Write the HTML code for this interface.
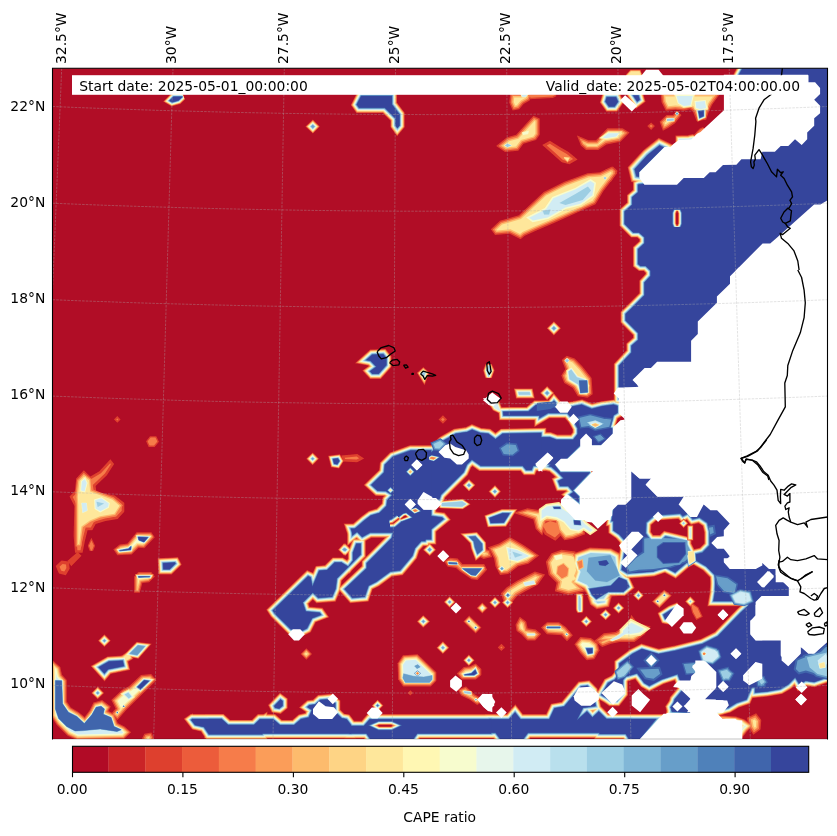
<!DOCTYPE html>
<html><head><meta charset="utf-8"><title>CAPE ratio</title>
<style>
html,body{margin:0;padding:0;background:#fff;}
body{width:837px;height:836px;overflow:hidden;}
svg{display:block;}
text{font-family:"DejaVu Sans","Liberation Sans",sans-serif;font-size:13.89px;fill:#000;}
</style></head><body>
<svg width="837" height="836" viewBox="0 0 837 836">
<rect width="837" height="836" fill="#fff"/>
<defs><clipPath id="ax"><rect x="52.5" y="68.3" width="775.0" height="670.7"/></clipPath>
<path id="s0" d="M169.5,100.7L172.1,102.2L178.4,100.4L182.4,96.7L173.5,96.7Z"/>
<path id="s1" d="M361.2,95.9L356.8,104.6L359.1,107.8L384.8,107.8L395.6,118.5L395.6,125.4L397.4,127.9L399.5,125.4L399.5,114.4L391.9,104.4L391.9,95.9Z"/>
<path id="s2" d="M312.8,125.1L314.3,126.6L312.8,128.1L311.2,126.6Z"/>
<path id="s3" d="M542.8,210.7L550.4,209.5L549.1,214.5L544.1,214.5Z"/>
<path id="s4" d="M625.7,314.3L625.7,320.4L638.2,333.0L638.2,339.9L631.5,345.8L631.5,352.4L619.0,365.8L619.0,387.9L619.0,398.8L838.8,398.8L838.8,61.2L746.3,61.2L738.7,75.3L736.2,110.4L700.8,161.0L650.3,183.2L638.9,184.5L638.1,184.9L638.1,192.3L632.2,197.3L632.2,204.8L624.7,211.5L624.7,223.9L633.2,232.4L639.0,232.4L644.5,237.2L644.5,243.3L638.1,249.2L638.1,264.0L640.6,265.9L645.8,265.9L650.6,270.8L650.6,275.9L644.5,282.6L644.5,295.2L630.9,309.0L625.7,313.9Z"/>
<path id="s5" d="M626.8,75.9L631.0,71.4L639.4,71.4L641.0,75.9Z"/>
<path id="s6" d="M606.8,97.2L605.5,101.6L609.0,106.5L614.5,106.5L617.9,101.7L616.0,97.2Z"/>
<path id="s7" d="M633.2,95.5L637.2,101.5L639.6,99.7L638.4,95.5Z"/>
<path id="s8" d="M698.5,111.3L699.7,117.8L703.5,116.1L703.5,110.7Z"/>
<path id="s9" d="M667.0,118.9L673.7,118.6L673.7,120.6L667.0,121.1Z"/>
<path id="s10" d="M675.9,113.6L677.0,112.4L678.2,113.6L677.0,114.8Z"/>
<path id="s11" d="M649.4,126.1L651.1,124.5L652.8,126.1L651.1,127.8Z"/>
<path id="s12" d="M663.6,147.4L659.6,145.5L647.7,155.0L634.8,169.2L636.5,176.2L639.0,176.6L639.0,172.0Z"/>
<path id="s13" d="M678.7,140.4L691.3,140.0L693.8,137.4L688.8,138.4L678.7,138.7Z"/>
<path id="s14" d="M693.8,137.4L700.5,132.0L703.8,128.7L700.5,130.3Z"/>
<path id="s15" d="M603.7,178.1L605.0,176.7L606.4,178.1L605.0,179.4Z"/>
<path id="s16" d="M553.9,326.8L555.4,328.3L553.9,329.8L552.4,328.3Z"/>
<path id="s17" d="M579.0,380.5L587.1,380.5L587.8,392.3L580.3,393.1Z"/>
<path id="s18" d="M565.2,360.4L567.0,358.7L569.0,360.4L567.0,362.4Z"/>
<path id="s19" d="M486.8,370.5L488.6,365.5L490.9,370.5L488.6,376.8Z"/>
<path id="s20" d="M421.3,373.5L423.3,371.7L425.3,373.5L423.8,377.5Z"/>
<path id="s21" d="M518.7,392.3L529.5,392.3L530.0,394.6L519.2,394.6Z"/>
<path id="s22" d="M547.1,391.6L548.6,393.1L547.1,394.6L545.6,393.1Z"/>
<path id="s23" d="M442.9,417.7L444.6,419.5L442.9,421.2L441.1,419.5Z"/>
<path id="s24" d="M503.2,411.8L503.5,415.5L543.0,415.5L551.7,409.8L555.7,402.8L554.0,400.8L550.7,405.1L536.0,405.1L528.5,411.4Z"/>
<path id="s25" d="M492.4,404.4L496.9,403.1L499.9,410.7L494.9,408.2Z"/>
<path id="s26" d="M469.0,484.0L470.3,485.2L469.0,486.5L467.7,485.2Z"/>
<path id="s27" d="M494.9,490.2L496.1,491.5L494.9,492.8L493.6,491.5Z"/>
<path id="s28" d="M429.6,548.5L430.8,549.8L429.6,551.0L428.3,549.8Z"/>
<path id="s29" d="M442.1,503.3L462.2,501.5L466.0,504.1L462.2,506.6L442.1,505.8Z"/>
<path id="s30" d="M489.5,518.1L490.8,522.9L503.8,522.5L509.7,513.3L502.6,513.3Z"/>
<path id="s31" d="M512.5,551.8L522.5,555.0L515.0,557.6Z"/>
<path id="s32" d="M501.9,567.4L503.2,568.6L501.9,569.9L500.6,568.6Z"/>
<path id="s33" d="M507.9,594.0L509.2,595.2L507.9,596.5L506.7,595.2Z"/>
<path id="s34" d="M523.8,582.7L533.8,580.7L535.1,583.7L525.0,585.7Z"/>
<path id="s35" d="M117.3,418.4L118.3,419.4L117.3,420.4L116.3,419.4Z"/>
<path id="s36" d="M148.5,441.5L151.0,438.3L155.0,438.3L156.5,441.5L153.7,444.8L150.0,444.8Z"/>
<path id="s37" d="M81.7,503.1L86.4,503.1L87.2,510.6L82.7,512.6Z"/>
<path id="s38" d="M96.5,501.8L104.0,503.6L97.7,506.9Z"/>
<path id="s39" d="M91.4,542.0L93.2,545.8L91.4,550.3L89.7,545.8Z"/>
<path id="s40" d="M68.8,560.9L77.6,553.3L80.1,555.8L71.4,564.6Z"/>
<path id="s41" d="M138.2,537.0L138.9,539.9L143.9,541.9L147.9,537.4Z"/>
<path id="s42" d="M119.6,550.5L119.8,550.8L130.6,549.7L131.1,546.5L128.4,548.9Z"/>
<path id="s43" d="M163.1,563.2L163.4,569.2L169.6,569.2L175.4,563.6L174.9,562.6Z"/>
<path id="s44" d="M138.5,576.6L138.7,577.2L149.7,576.8L149.8,576.6Z"/>
<path id="s45" d="M191.2,719.9L195.1,724.9L204.0,726.9L208.9,734.3L262.3,734.3L262.3,721.1L256.3,725.1L227.9,725.1L221.6,719.1L192.3,719.1Z"/>
<path id="s46" d="M272.9,610.5L274.8,613.4L290.8,629.3L302.6,630.5L306.9,628.3L312.0,618.2L321.1,614.8L319.7,612.8L305.7,611.5L302.7,602.5L312.8,592.4L318.3,597.8L332.1,596.7L335.5,588.7L336.8,578.4L360.6,554.6L360.6,543.8L356.4,543.8L353.0,552.8L353.0,560.5L348.3,566.8L341.4,562.6L334.7,562.6L327.2,570.1L319.2,570.8L312.4,586.8L310.5,577.3L308.1,576.2Z"/>
<path id="s47" d="M344.7,589.1L352.3,597.8L364.7,596.7L368.4,585.7L376.3,581.7L390.3,571.6L400.1,570.3L412.3,555.8L414.8,548.2L424.8,537.0L426.9,528.7L394.2,528.7L391.8,538.1L376.5,553.5L366.8,563.2L366.8,568.2Z"/>
<path id="s48" d="M350.9,528.7L352.5,533.4L355.8,531.8L360.7,531.8L363.4,535.8L370.2,530.9L385.2,528.7Z"/>
<path id="s49" d="M393.2,528.7L393.2,527.5L391.5,527.5L391.6,529.0Z"/>
<path id="s50" d="M344.2,548.3L345.5,549.6L344.2,550.8L343.0,549.6Z"/>
<path id="s51" d="M429.7,548.3L430.9,549.6L429.7,550.8L428.4,549.6Z"/>
<path id="s52" d="M521.4,94.8L527.3,94.8L525.6,96.8L522.2,96.8Z"/>
<path id="s53" d="M528.9,94.8L555.7,94.8L552.4,96.5L530.6,97.8Z"/>
<path id="s54" d="M504.7,145.4L507.5,143.7L511.4,145.4L507.5,147.0Z"/>
<path id="s55" d="M522.2,132.5L528.9,130.8L528.1,134.1L523.1,135.0Z"/>
<path id="s56" d="M564.1,157.6L569.1,158.1L567.5,160.9Z"/>
<path id="s57" d="M539.5,406.2L539.5,418.1L548.0,413.1L567.3,413.1L572.8,419.5L577.7,428.3L577.7,434.0L573.2,439.8L556.5,439.8L549.8,437.3L539.5,437.3L539.5,464.2L554.8,464.2L566.9,458.5L579.7,445.8L600.7,445.0L612.5,434.7L612.5,428.6L609.7,427.7L613.5,415.2L617.5,412.8L617.5,406.0L613.6,404.7L602.2,406.3L591.8,408.9L581.7,404.7L573.7,406.3L558.3,408.9L549.9,405.5Z"/>
<path id="s58" d="M549.0,466.3L551.4,466.8L556.7,471.2L563.8,478.3L558.2,481.1L560.1,486.0L568.2,486.0L573.6,492.1L569.6,494.8L578.7,502.2L578.7,496.4L572.6,490.6L589.9,472.5L560.3,472.5L554.3,464.5L558.3,460.4L554.7,460.0Z"/>
<path id="s59" d="M632.5,474.0L632.5,499.4L625.9,506.0L618.4,506.0L613.1,511.2L611.7,521.1L681.1,521.1L681.1,497.6L656.7,497.6L643.8,484.7L648.5,480.0L639.2,480.0Z"/>
<path id="s60" d="M613.5,507.0L613.5,530.4L619.5,534.6L624.9,540.6L624.9,550.3L621.7,569.7L627.4,573.3L636.7,572.7L653.2,571.4L665.3,567.2L675.1,572.4L686.3,562.8L693.7,559.1L706.1,566.2L714.9,575.0L715.8,587.3L713.5,601.1L761.1,601.1L761.1,471.2L631.6,471.2Z"/>
<path id="s61" d="M554.2,556.1L561.8,554.4L562.6,558.6L555.9,560.3Z"/>
<path id="s62" d="M568.5,556.9L573.5,556.9L576.0,567.0L571.8,573.7L576.0,578.7L572.7,580.4L568.5,573.7L571.0,567.0Z"/>
<path id="s63" d="M598.5,561.6L599.5,565.0L605.3,565.7L608.7,563.4L606.4,560.3Z"/>
<path id="s64" d="M589.5,588.9L592.1,594.8L596.3,599.0L608.3,591.7L623.3,591.7L629.0,586.8L626.2,580.5L619.0,577.6L610.9,585.7Z"/>
<path id="s65" d="M588.6,557.8L610.3,555.3L616.2,567.0L619.5,575.4L607.0,582.1L595.3,580.4L586.9,571.2Z"/>
<path id="s66" d="M553.6,507.1L554.2,508.5L560.3,508.5L560.0,507.1Z"/>
<path id="s67" d="M574.0,520.5L574.5,524.3L580.5,524.7L580.0,520.9Z"/>
<path id="s68" d="M578.9,596.3L579.9,596.3L579.9,608.9L579.4,610.2L578.9,608.9Z"/>
<path id="s69" d="M715.7,579.5L715.0,589.6L720.9,595.5L733.8,593.0L752.3,594.0L748.3,605.8L741.4,611.9L717.8,636.2L702.5,643.9L675.5,650.7L658.5,654.1L641.9,649.1L632.4,653.9L619.5,663.5L619.5,676.7L628.1,675.9L637.2,673.2L644.3,682.9L649.3,685.8L661.4,679.4L677.7,674.0L683.3,689.1L674.7,699.5L671.8,711.1L717.0,711.1L728.4,707.8L736.7,702.8L746.4,699.6L751.5,687.8L761.1,686.2L761.1,579.5Z"/>
<path id="s70" d="M656.0,601.4L664.4,593.4L667.7,595.9L659.4,604.3Z"/>
<path id="s71" d="M664.4,594.7L665.0,595.4L664.4,596.1L663.7,595.4Z"/>
<path id="s72" d="M657.7,600.8L658.3,601.4L657.7,602.1L657.0,601.4Z"/>
<path id="s73" d="M690.3,600.4L691.3,601.4L690.3,602.4L689.3,601.4Z"/>
<path id="s74" d="M638.4,594.4L639.4,595.4L638.4,596.4L637.4,595.4Z"/>
<path id="s75" d="M692.0,605.1L697.0,608.5L700.4,616.0L697.0,617.7L693.7,611.8Z"/>
<path id="s76" d="M663.4,614.8L665.2,619.1L668.2,619.7L676.3,613.1L674.6,608.4L670.8,609.9Z"/>
<path id="s77" d="M489.5,719.3L489.5,732.8L495.6,732.8L500.6,739.5L522.9,739.5L527.9,732.8L625.7,732.8L631.1,733.3L631.1,719.3L606.7,719.3L598.8,711.4L592.4,717.6L587.0,711.4L576.8,720.3L576.7,720.3L583.0,707.7L595.7,706.1L592.7,691.0L587.5,685.8L581.0,686.5L564.3,706.6L554.5,708.3L549.4,719.3L520.4,719.3L515.1,712.4L509.0,719.3Z"/>
<path id="s78" d="M601.3,695.0L606.2,697.8L610.9,701.0L616.7,701.0L622.8,693.4L622.8,679.9L631.1,669.9L631.1,658.8L621.6,671.1L614.7,679.7L608.1,683.0Z"/>
<path id="s79" d="M495.0,601.5L496.0,602.5L495.0,603.5L494.0,602.5Z"/>
<path id="s80" d="M507.6,601.5L508.6,602.5L507.6,603.5L506.6,602.5Z"/>
<path id="s81" d="M586.3,620.4L587.3,621.4L586.3,622.4L585.3,621.4Z"/>
<path id="s82" d="M605.6,613.7L606.6,614.7L605.6,615.7L604.5,614.7Z"/>
<path id="s83" d="M618.6,607.0L619.6,608.0L618.6,609.0L617.6,608.0Z"/>
<path id="s84" d="M501.4,646.4L502.4,647.4L501.4,648.4L500.4,647.4Z"/>
<path id="s85" d="M579.3,598.3L580.4,598.3L580.4,610.0L579.9,611.4L579.3,610.0Z"/>
<path id="s86" d="M527.2,633.8L534.9,633.8L534.9,635.2L527.2,635.2Z"/>
<path id="s87" d="M546.9,626.8L560.3,626.8L560.3,628.1L546.9,628.1Z"/>
<path id="s88" d="M566.7,633.7L567.4,634.3L566.7,635.0L566.0,634.3Z"/>
<path id="s89" d="M586.3,648.4L588.2,653.6L592.3,652.9L592.3,648.4Z"/>
<path id="s90" d="M610.6,639.9L617.3,636.0L627.3,630.1L627.3,632.7L618.9,638.2L612.2,640.5Z"/>
<path id="s91" d="M755.1,559.5L755.1,692.6L767.2,691.4L780.3,689.1L788.4,684.3L795.2,677.3L799.5,684.3L805.6,680.7L814.1,681.9L829.8,676.4L829.8,559.5Z"/>
<path id="s92" d="M399.5,461.7L399.5,507.7L406.4,507.7L416.4,502.7L439.3,499.4L440.8,494.8L463.5,472.2L466.8,464.6L471.9,459.6L480.8,465.8L522.8,465.8L526.2,470.0L531.5,470.0L533.2,465.8L541.1,465.8L541.1,433.0L502.6,433.8L495.5,439.2L488.3,433.8L480.1,433.0L472.1,429.8L467.3,432.1L455.7,433.8L442.6,441.2L428.0,455.8L418.3,453.1L410.5,453.9Z"/>
<path id="s93" d="M399.5,518.3L399.5,541.1L425.1,541.1L428.3,531.6L443.5,519.1L442.1,517.5L430.1,515.9L416.8,517.1Z"/>
<path id="s94" d="M441.9,503.5L462.0,502.5L464.5,504.2L462.0,505.8L441.9,505.5Z"/>
<path id="s95" d="M349.5,726.0L349.5,733.4L366.5,733.4L370.7,739.5L413.0,739.5L417.2,733.4L491.1,733.4L491.1,719.3L369.8,719.3L363.9,726.0Z"/>
<path id="s96" d="M377.6,704.5L378.6,705.5L377.6,706.5L376.6,705.5Z"/>
<path id="s97" d="M449.6,601.0L450.6,602.0L449.6,603.0L448.6,602.0Z"/>
<path id="s98" d="M482.3,607.0L483.3,608.0L482.3,609.0L481.3,608.0Z"/>
<path id="s99" d="M423.3,620.4L424.4,621.4L423.3,622.4L422.3,621.4Z"/>
<path id="s100" d="M442.9,646.7L443.9,647.7L442.9,648.7L441.9,647.7Z"/>
<path id="s101" d="M468.9,659.3L469.9,660.3L468.9,661.3L467.9,660.3Z"/>
<path id="s102" d="M410.3,691.9L411.3,692.9L410.3,693.9L409.3,692.9Z"/>
<path id="s103" d="M467.2,621.4L469.2,619.4L477.6,627.6L475.6,629.6Z"/>
<path id="s104" d="M468.9,620.8L469.6,621.4L468.9,622.1L468.2,621.4Z"/>
<path id="s105" d="M475.6,627.0L476.3,627.6L475.6,628.3L474.9,627.6Z"/>
<path id="s106" d="M403.6,673.7L413.6,676.2L423.7,677.0L432.1,675.4L432.1,679.5L429.5,682.4L405.3,682.4L402.8,677.9Z"/>
<path id="s107" d="M414.5,666.1L417.8,664.5L420.3,667.0L417.0,668.7Z"/>
<path id="s108" d="M464.7,674.8L464.8,675.0L473.9,675.0L476.6,673.2L475.2,669.9L471.5,673.5Z"/>
<path id="s109" d="M463.9,691.3L470.6,692.1L470.9,694.1L464.7,693.1Z"/>
<path id="s110" d="M475.9,699.0L476.6,699.6L475.9,700.3L475.3,699.6Z"/>
<path id="s111" d="M209.5,719.3L209.5,733.4L351.1,733.4L351.1,725.2L346.6,719.2L341.7,718.3L335.2,711.9L335.2,703.1L329.9,699.2L320.2,700.0L315.2,704.6L309.3,705.3L307.4,707.0L312.0,710.1L308.8,717.4L301.0,719.2L294.2,725.1L279.9,725.1L273.2,719.3L259.9,719.3L254.0,725.1L228.0,725.1L221.3,719.3Z"/>
<path id="s112" d="M274.3,706.0L275.2,707.8L279.2,708.4L282.5,705.8L282.5,701.1L280.5,699.6Z"/>
<path id="s113" d="M306.3,652.9L307.3,653.9L306.3,654.9L305.3,653.9Z"/>
<path id="s114" d="M104.4,639.7L105.4,640.7L104.4,641.7L103.4,640.7Z"/>
<path id="s115" d="M97.7,691.9L98.7,692.9L97.7,693.9L96.7,692.9Z"/>
<path id="s116" d="M192.3,718.7L193.3,719.7L192.3,720.7L191.3,719.7Z"/>
<path id="s117" d="M98.8,667.3L104.4,673.5L108.0,669.2L123.9,666.0L122.7,660.7L109.0,661.5Z"/>
<path id="s118" d="M130.0,653.6L137.9,645.6L144.6,646.4L137.1,654.9Z"/>
<path id="s119" d="M123.7,656.9L128.7,653.6L130.4,657.8L126.2,660.3Z"/>
<path id="s120" d="M137.5,687.0L140.3,689.2L148.9,680.9L144.2,680.3Z"/>
<path id="s121" d="M123.7,705.7L124.4,706.3L123.7,707.0L123.0,706.3Z"/>
<path id="s122" d="M117.3,711.9L118.0,712.5L117.3,713.2L116.7,712.5Z"/>
<path id="s123" d="M55.4,680.4L61.7,680.7L62.6,703.8L68.4,712.2L76.8,716.4L84.3,723.6L91.9,714.7L96.1,707.2L101.1,706.2L104.4,708.9L103.3,714.2L111.1,717.6L114.0,726.4L121.2,729.8L117.0,731.5L100.2,728.9L83.5,730.6L75.1,731.0L66.7,726.4L58.7,718.6L55.4,708.9Z"/>
<path id="s124" d="M91.9,722.2L105.3,724.8L110.3,729.8L100.2,728.9L92.7,727.3Z"/>
<path id="s125" d="M599.5,719.1L599.5,733.9L625.8,733.9L629.1,739.3L639.6,739.3L656.1,719.1Z"/>
<path id="s126" d="M672.1,711.7L690.1,712.4L690.1,700.2L680.6,695.1L675.5,700.2L670.8,707.2Z"/>
<path id="s127" d="M366.3,360.0L370.6,360.8L376.4,366.7L370.1,371.3L372.3,373.7L378.6,373.7L386.3,365.1L386.3,358.1L383.2,354.2L372.2,354.7Z"/>
<path id="s128" d="M410.8,450.4L392.8,456.9L384.9,464.8L384.1,472.4L371.3,484.9L377.6,490.7L385.8,491.1L392.4,495.0L387.4,500.0L386.6,505.9L379.4,513.1L370.9,515.6L364.4,520.5L352.3,531.0L352.3,535.5L357.1,531.7L362.2,537.0L370.1,532.6L397.9,532.6L401.3,539.3L431.1,539.3L431.1,450.4Z"/>
<path id="s129" d="M312.6,457.8L313.6,458.8L312.6,459.8L311.6,458.8Z"/>
<path id="s130" d="M333.0,459.1L334.2,463.7L337.2,464.2L339.3,460.9L337.9,458.5Z"/>
<path id="s131" d="M345.3,548.7L346.3,549.7L345.3,550.7L344.3,549.7Z"/>
<path id="s132" d="M469.0,536.7L475.4,536.2L482.1,543.8L482.4,550.1L477.4,554.3L474.9,547.6L473.7,541.4Z"/>
<path id="s133" d="M448.6,562.2L456.9,562.7L457.3,564.2L448.9,563.9Z"/>
<path id="s134" d="M462.3,568.6L481.7,568.6L475.7,575.6L471.2,574.9Z"/>
<filter id="bl" x="0" y="0" width="837" height="836" filterUnits="userSpaceOnUse"><feGaussianBlur stdDeviation="0.7"/></filter>
</defs>
<g clip-path="url(#ax)">
<g filter="url(#bl)">
<rect x="20" y="40" width="840" height="730" fill="#b10b26"/>
<rect x="52.5" y="68.3" width="775.0" height="670.7" fill="#b10b26"/>
<g fill="#de402e" stroke="#de402e" stroke-linejoin="miter" stroke-miterlimit="2.5">
<use href="#s0" stroke-width="7.8"/>
<use href="#s1" stroke-width="10.4"/>
<use href="#s2" stroke-width="7.9"/>
<use href="#s3" stroke-width="1.7"/>
<use href="#s4" stroke-width="10.4"/>
<use href="#s5" stroke-width="3.1"/>
<use href="#s6" stroke-width="10.4"/>
<use href="#s7" stroke-width="10.4"/>
<use href="#s8" stroke-width="6.0"/>
<use href="#s9" stroke-width="2.6"/>
<use href="#s10" stroke-width="1.8"/>
<use href="#s11" stroke-width="3.0"/>
<use href="#s12" stroke-width="13.1"/>
<use href="#s13" stroke-width="6.7"/>
<use href="#s14" stroke-width="3.6"/>
<use href="#s15" stroke-width="1.7"/>
<use href="#s16" stroke-width="7.9"/>
<use href="#s17" stroke-width="2.7"/>
<use href="#s18" stroke-width="1.7"/>
<use href="#s19" stroke-width="6.9"/>
<use href="#s20" stroke-width="6.9"/>
<use href="#s21" stroke-width="7.8"/>
<use href="#s22" stroke-width="7.9"/>
<use href="#s23" stroke-width="3.5"/>
<use href="#s24" stroke-width="9.5"/>
<use href="#s25" stroke-width="5.9"/>
<use href="#s26" stroke-width="7.2"/>
<use href="#s27" stroke-width="7.2"/>
<use href="#s28" stroke-width="7.2"/>
<use href="#s29" stroke-width="5.2"/>
<use href="#s30" stroke-width="8.6"/>
<use href="#s31" stroke-width="2.6"/>
<use href="#s32" stroke-width="5.1"/>
<use href="#s33" stroke-width="5.5"/>
<use href="#s34" stroke-width="2.5"/>
<use href="#s35" stroke-width="3.3"/>
<use href="#s36" stroke-width="4.2"/>
<use href="#s37" stroke-width="2.5"/>
<use href="#s38" stroke-width="1.7"/>
<use href="#s39" stroke-width="3.6"/>
<use href="#s40" stroke-width="2.0"/>
<use href="#s41" stroke-width="5.1"/>
<use href="#s42" stroke-width="5.1"/>
<use href="#s43" stroke-width="10.4"/>
<use href="#s44" stroke-width="5.1"/>
<use href="#s45" stroke-width="10.4"/>
<use href="#s46" stroke-width="10.4"/>
<use href="#s47" stroke-width="10.4"/>
<use href="#s48" stroke-width="10.4"/>
<use href="#s49" stroke-width="8.1"/>
<use href="#s50" stroke-width="7.2"/>
<use href="#s51" stroke-width="7.2"/>
<use href="#s52" stroke-width="2.5"/>
<use href="#s53" stroke-width="3.0"/>
<use href="#s54" stroke-width="2.6"/>
<use href="#s55" stroke-width="1.6"/>
<use href="#s56" stroke-width="3.1"/>
<use href="#s57" stroke-width="10.4"/>
<use href="#s58" stroke-width="10.4"/>
<use href="#s59" stroke-width="10.4"/>
<use href="#s60" stroke-width="10.4"/>
<use href="#s61" stroke-width="3.2"/>
<use href="#s62" stroke-width="3.1"/>
<use href="#s63" stroke-width="7.8"/>
<use href="#s64" stroke-width="8.6"/>
<use href="#s65" stroke-width="3.5"/>
<use href="#s66" stroke-width="6.0"/>
<use href="#s67" stroke-width="6.0"/>
<use href="#s68" stroke-width="6.1"/>
<use href="#s69" stroke-width="10.4"/>
<use href="#s70" stroke-width="5.4"/>
<use href="#s71" stroke-width="3.4"/>
<use href="#s72" stroke-width="3.4"/>
<use href="#s73" stroke-width="6.0"/>
<use href="#s74" stroke-width="6.2"/>
<use href="#s75" stroke-width="3.6"/>
<use href="#s76" stroke-width="9.5"/>
<use href="#s77" stroke-width="10.4"/>
<use href="#s78" stroke-width="10.4"/>
<use href="#s79" stroke-width="6.7"/>
<use href="#s80" stroke-width="6.7"/>
<use href="#s81" stroke-width="6.7"/>
<use href="#s82" stroke-width="6.7"/>
<use href="#s83" stroke-width="6.7"/>
<use href="#s84" stroke-width="3.8"/>
<use href="#s85" stroke-width="6.1"/>
<use href="#s86" stroke-width="1.7"/>
<use href="#s87" stroke-width="2.7"/>
<use href="#s88" stroke-width="2.8"/>
<use href="#s89" stroke-width="6.0"/>
<use href="#s90" stroke-width="2.5"/>
<use href="#s91" stroke-width="10.4"/>
<use href="#s92" stroke-width="10.4"/>
<use href="#s93" stroke-width="10.4"/>
<use href="#s94" stroke-width="5.2"/>
<use href="#s95" stroke-width="10.4"/>
<use href="#s96" stroke-width="6.8"/>
<use href="#s97" stroke-width="6.7"/>
<use href="#s98" stroke-width="6.4"/>
<use href="#s99" stroke-width="7.6"/>
<use href="#s100" stroke-width="7.6"/>
<use href="#s101" stroke-width="6.7"/>
<use href="#s102" stroke-width="2.3"/>
<use href="#s103" stroke-width="5.4"/>
<use href="#s104" stroke-width="3.4"/>
<use href="#s105" stroke-width="3.4"/>
<use href="#s106" stroke-width="2.6"/>
<use href="#s107" stroke-width="1.8"/>
<use href="#s108" stroke-width="6.0"/>
<use href="#s109" stroke-width="2.6"/>
<use href="#s110" stroke-width="2.8"/>
<use href="#s111" stroke-width="10.4"/>
<use href="#s112" stroke-width="10.4"/>
<use href="#s113" stroke-width="6.7"/>
<use href="#s114" stroke-width="7.6"/>
<use href="#s115" stroke-width="7.6"/>
<use href="#s116" stroke-width="7.6"/>
<use href="#s117" stroke-width="10.4"/>
<use href="#s118" stroke-width="7.1"/>
<use href="#s119" stroke-width="4.7"/>
<use href="#s120" stroke-width="6.9"/>
<use href="#s121" stroke-width="2.3"/>
<use href="#s122" stroke-width="2.3"/>
<use href="#s123" stroke-width="3.6"/>
<use href="#s124" stroke-width="2.5"/>
<use href="#s125" stroke-width="10.4"/>
<use href="#s126" stroke-width="10.4"/>
<use href="#s127" stroke-width="10.4"/>
<use href="#s128" stroke-width="10.4"/>
<use href="#s129" stroke-width="7.6"/>
<use href="#s130" stroke-width="7.8"/>
<use href="#s131" stroke-width="7.6"/>
<use href="#s132" stroke-width="8.0"/>
<use href="#s133" stroke-width="2.7"/>
<use href="#s134" stroke-width="3.6"/>
<path d="M577.0,135.8L580.8,145.4L586.0,150.0L598.3,150.0L606.5,144.4L620.5,141.8L629.6,132.4L622.5,128.3L607.3,128.3L596.0,140.3L588.5,140.3L577.3,135.5Z" stroke="none" fill-rule="evenodd"/>
<path d="M499.9,220.7L490.8,229.2L495.0,235.1L509.6,233.8L520.6,239.3L524.8,235.8L536.5,230.4L554.0,222.9L576.7,212.8L595.6,204.2L603.5,191.0L617.4,173.0L612.0,166.5L599.9,172.2L587.4,173.2L564.3,181.7L543.7,192.0L518.8,215.2Z" stroke="none" fill-rule="evenodd"/>
<path d="M660.5,92.3L661.6,102.5L665.8,110.8L675.4,109.8L683.9,110.7L689.9,109.2L692.9,111.5L696.6,120.9L706.2,119.7L709.1,111.0L712.3,104.6L721.3,92.3Z" stroke="none" fill-rule="evenodd"/>
<path d="M659.6,121.8L662.9,130.8L668.1,127.9L675.1,123.2L681.5,115.1L677.0,110.7L672.8,114.9L666.5,114.9Z" stroke="none" fill-rule="evenodd"/>
<path d="M598.0,175.4L598.0,184.3L603.6,187.1L611.6,181.1L617.6,171.1L613.0,166.5L605.7,169.6Z" stroke="none" fill-rule="evenodd"/>
<path d="M561.7,360.1L565.3,369.1L561.3,375.4L564.2,382.9L572.8,388.0L577.7,396.3L587.6,397.7L592.7,394.2L591.6,378.0L582.5,366.6L574.7,358.6L566.7,355.7Z" stroke="none" fill-rule="evenodd"/>
<path d="M515.1,513.4L533.3,519.5L535.7,529.0L542.3,535.5L546.6,522.5L554.8,522.5L557.0,531.4L564.4,540.2L573.3,538.7L585.2,534.3L582.1,518.9L568.9,513.6L558.5,501.9L546.4,503.4L541.6,510.6L527.4,508.2L515.1,512.3Z" stroke="none" fill-rule="evenodd"/>
<path d="M488.1,547.3L494.1,558.7L495.4,566.3L500.0,574.9L508.2,573.9L518.4,566.3L528.5,563.7L539.1,555.4L523.6,545.0L509.9,537.1L499.0,543.6Z" stroke="none" fill-rule="evenodd"/>
<path d="M500.9,593.2L503.2,600.6L508.8,606.2L517.5,595.8L526.0,591.0L537.9,584.7L545.1,574.5L534.9,571.5L517.0,580.7L506.7,587.2Z" stroke="none" fill-rule="evenodd"/>
<path d="M69.5,496.5L74.4,505.9L73.6,535.8L75.0,552.8L82.6,552.8L84.9,541.1L87.6,530.2L92.3,530.2L95.7,523.9L105.6,521.1L117.6,519.0L124.3,511.7L124.3,502.8L114.7,495.6L96.5,492.3L95.6,486.0L106.9,475.2L114.1,464.1L110.4,459.3L99.3,471.3L90.4,476.6L83.8,470.3L76.2,478.6L74.9,491.1Z" stroke="none" fill-rule="evenodd"/>
<path d="M55.7,566.0L58.9,573.5L65.8,575.2L69.7,568.8L69.0,561.5L61.5,560.5Z" stroke="none" fill-rule="evenodd"/>
<path d="M113.3,549.4L117.4,555.2L131.7,554.6L138.6,547.7L144.4,548.2L154.8,537.2L151.4,532.2L136.6,532.2L127.4,543.4L119.6,544.6Z" stroke="none" fill-rule="evenodd"/>
<path d="M134.1,576.4L134.1,592.8L139.8,592.8L142.4,583.1L149.3,582.2L154.9,576.6L151.3,572.1L138.4,572.1Z" stroke="none" fill-rule="evenodd"/>
<path d="M510.3,93.1L509.2,102.6L512.6,110.6L519.2,109.2L523.6,103.9L529.7,100.4L532.9,93.1Z" stroke="none" fill-rule="evenodd"/>
<path d="M496.1,146.0L505.0,151.9L518.3,150.7L523.5,143.8L536.1,140.1L539.7,134.8L539.7,118.6L533.4,115.7L524.1,126.1L516.1,134.8L507.0,137.3Z" stroke="none" fill-rule="evenodd"/>
<path d="M542.2,145.1L549.7,151.5L561.7,162.3L569.4,164.2L577.6,159.5L568.3,151.8L559.9,147.1L549.9,140.8Z" stroke="none" fill-rule="evenodd"/>
<path d="M545.8,561.8L548.7,574.9L556.6,582.8L554.8,591.3L568.4,594.9L586.6,591.0L577.1,581.2L581.4,570.4L575.3,551.4L561.5,549.8L551.5,553.3Z" stroke="none" fill-rule="evenodd"/>
<path d="M573.6,553.2L571.5,563.9L574.8,572.1L571.0,583.5L583.4,589.3L588.0,595.4L594.8,605.0L606.9,603.9L611.9,596.4L624.7,595.6L634.7,587.9L629.4,577.2L622.2,569.2L620.4,553.6L611.1,548.4L589.8,547.5Z" stroke="none" fill-rule="evenodd"/>
<path d="M538.8,523.6L544.7,534.6L555.3,540.7L562.5,534.1L560.6,521.5L549.9,518.2Z" stroke="none" fill-rule="evenodd"/>
<path d="M594.2,642.1L634.5,642.1L644.5,634.6L650.7,626.4L637.5,622.9L631.3,614.8L627.4,627.2L619.7,631.6L603.7,633.3L593.8,641.2Z" stroke="none" fill-rule="evenodd"/>
<path d="M515.5,624.8L516.6,631.0L521.3,634.2L527.3,640.6L535.3,640.6L541.2,634.1L535.8,629.5L527.7,628.3L526.2,621.4L519.8,616.7Z" stroke="none" fill-rule="evenodd"/>
<path d="M541.0,627.4L546.8,634.2L561.4,635.2L567.0,641.2L572.9,635.3L565.9,626.9L559.0,622.2L547.0,622.2Z" stroke="none" fill-rule="evenodd"/>
<path d="M574.4,644.2L580.1,652.9L586.6,660.2L594.3,659.3L599.5,650.2L597.7,642.9L590.9,638.1L580.3,637.1Z" stroke="none" fill-rule="evenodd"/>
<path d="M595.1,641.4L602.2,647.1L611.1,643.8L621.1,641.8L634.3,637.4L634.3,618.8L616.3,631.4L606.4,636.4Z" stroke="none" fill-rule="evenodd"/>
<path d="M587.2,596.0L590.2,604.8L596.6,609.2L609.1,607.1L611.9,596.0Z" stroke="none" fill-rule="evenodd"/>
<path d="M397.6,663.2L398.1,679.2L403.0,686.4L430.8,686.4L436.4,680.8L436.4,672.2L424.7,660.9L417.6,654.2L402.9,655.2Z" stroke="none" fill-rule="evenodd"/>
<path d="M456.8,673.4L461.5,679.5L476.0,679.5L481.4,675.0L481.4,669.1L475.7,663.6L470.0,666.2L463.8,666.9Z" stroke="none" fill-rule="evenodd"/>
<path d="M457.8,689.6L461.0,695.4L469.8,699.8L477.1,705.0L485.4,700.5L474.9,694.5L466.0,686.6Z" stroke="none" fill-rule="evenodd"/>
<path d="M111.3,699.9L115.6,708.5L110.9,714.1L117.6,720.0L127.2,708.9L156.5,680.2L151.2,674.0L141.0,674.9L128.9,686.3L122.2,689.7Z" stroke="none" fill-rule="evenodd"/>
<path d="M50.6,659.4L51.1,716.5L56.8,725.0L67.5,735.7L77.0,740.1L124.1,739.0L131.2,732.2L124.6,726.4L117.8,723.1L114.8,714.2L108.5,711.1L110.8,706.6L102.2,700.1L93.4,702.6L89.6,710.3L84.6,717.0L78.9,712.2L70.9,707.4L66.8,701.5L66.8,680.0L62.0,674.7L60.3,667.0L51.2,659.1Z" stroke="none" fill-rule="evenodd"/>
<path d="M139.4,744.0L156.3,744.0L151.5,732.4L144.3,733.8Z" stroke="none" fill-rule="evenodd"/>
<path d="M718.4,719.2L734.5,722.6L738.6,726.1L724.9,742.6L725.1,742.9L738.3,742.9L747.3,731.3L753.5,725.6L744.1,719.2L736.0,716.5L719.0,715.3Z" stroke="none" fill-rule="evenodd"/>
<path d="M747.0,717.7L749.0,727.9L753.4,734.7L760.5,729.6L761.3,719.9L756.2,713.3Z" stroke="none" fill-rule="evenodd"/>
<path d="M341.3,455.4L343.1,461.5L357.2,462.2L364.2,458.5L357.3,453.9Z" stroke="none" fill-rule="evenodd"/>
<path d="M479.5,547.8L477.2,555.8L483.6,559.0L492.1,556.9L489.7,549.9Z" stroke="none" fill-rule="evenodd"/>
<path d="M443.9,561.1L447.7,566.8L456.0,568.0L459.3,571.0L471.6,579.3L477.5,580.0L487.1,569.8L484.2,564.0L462.5,564.0L457.6,558.5L450.2,557.7Z" stroke="none" fill-rule="evenodd"/>
</g>
<g fill="#f67c4a" stroke="#f67c4a" stroke-linejoin="miter" stroke-miterlimit="2.5">
<use href="#s0" stroke-width="6.8"/>
<use href="#s1" stroke-width="9.2"/>
<use href="#s2" stroke-width="6.9"/>
<use href="#s3" stroke-width="1.5"/>
<use href="#s4" stroke-width="9.2"/>
<use href="#s5" stroke-width="2.2"/>
<use href="#s6" stroke-width="9.2"/>
<use href="#s7" stroke-width="9.2"/>
<use href="#s8" stroke-width="5.3"/>
<use href="#s9" stroke-width="2.1"/>
<use href="#s10" stroke-width="1.5"/>
<use href="#s11" stroke-width="0.0"/>
<use href="#s12" stroke-width="11.6"/>
<use href="#s13" stroke-width="5.3"/>
<use href="#s14" stroke-width="1.2"/>
<use href="#s15" stroke-width="1.4"/>
<use href="#s16" stroke-width="6.9"/>
<use href="#s17" stroke-width="2.3"/>
<use href="#s18" stroke-width="1.5"/>
<use href="#s19" stroke-width="5.9"/>
<use href="#s20" stroke-width="5.7"/>
<use href="#s21" stroke-width="6.6"/>
<use href="#s22" stroke-width="6.9"/>
<use href="#s23" stroke-width="0.0"/>
<use href="#s24" stroke-width="8.4"/>
<use href="#s25" stroke-width="4.8"/>
<use href="#s26" stroke-width="6.2"/>
<use href="#s27" stroke-width="6.2"/>
<use href="#s28" stroke-width="6.2"/>
<use href="#s29" stroke-width="4.4"/>
<use href="#s30" stroke-width="7.6"/>
<use href="#s31" stroke-width="2.2"/>
<use href="#s32" stroke-width="4.4"/>
<use href="#s33" stroke-width="4.8"/>
<use href="#s34" stroke-width="2.1"/>
<use href="#s35" stroke-width="0.0"/>
<use href="#s36" stroke-width="1.4"/>
<use href="#s37" stroke-width="2.1"/>
<use href="#s38" stroke-width="1.5"/>
<use href="#s39" stroke-width="1.2"/>
<use href="#s41" stroke-width="4.5"/>
<use href="#s42" stroke-width="4.5"/>
<use href="#s43" stroke-width="9.2"/>
<use href="#s44" stroke-width="4.5"/>
<use href="#s45" stroke-width="9.2"/>
<use href="#s46" stroke-width="9.2"/>
<use href="#s47" stroke-width="9.2"/>
<use href="#s48" stroke-width="9.2"/>
<use href="#s49" stroke-width="7.1"/>
<use href="#s50" stroke-width="6.2"/>
<use href="#s51" stroke-width="6.2"/>
<use href="#s52" stroke-width="2.1"/>
<use href="#s53" stroke-width="0.0"/>
<use href="#s54" stroke-width="2.1"/>
<use href="#s55" stroke-width="1.3"/>
<use href="#s56" stroke-width="2.2"/>
<use href="#s57" stroke-width="9.2"/>
<use href="#s58" stroke-width="9.2"/>
<use href="#s59" stroke-width="9.2"/>
<use href="#s60" stroke-width="9.2"/>
<use href="#s61" stroke-width="2.4"/>
<use href="#s62" stroke-width="2.2"/>
<use href="#s63" stroke-width="6.8"/>
<use href="#s64" stroke-width="7.6"/>
<use href="#s65" stroke-width="3.1"/>
<use href="#s66" stroke-width="5.3"/>
<use href="#s67" stroke-width="5.3"/>
<use href="#s68" stroke-width="5.1"/>
<use href="#s69" stroke-width="9.2"/>
<use href="#s70" stroke-width="3.9"/>
<use href="#s71" stroke-width="3.0"/>
<use href="#s72" stroke-width="3.0"/>
<use href="#s73" stroke-width="5.0"/>
<use href="#s74" stroke-width="5.4"/>
<use href="#s75" stroke-width="1.2"/>
<use href="#s76" stroke-width="8.4"/>
<use href="#s77" stroke-width="9.2"/>
<use href="#s78" stroke-width="9.2"/>
<use href="#s79" stroke-width="5.8"/>
<use href="#s80" stroke-width="5.8"/>
<use href="#s81" stroke-width="5.8"/>
<use href="#s82" stroke-width="5.8"/>
<use href="#s83" stroke-width="5.8"/>
<use href="#s84" stroke-width="0.0"/>
<use href="#s85" stroke-width="5.1"/>
<use href="#s86" stroke-width="1.4"/>
<use href="#s87" stroke-width="2.3"/>
<use href="#s88" stroke-width="2.4"/>
<use href="#s89" stroke-width="5.3"/>
<use href="#s90" stroke-width="2.1"/>
<use href="#s91" stroke-width="9.2"/>
<use href="#s92" stroke-width="9.2"/>
<use href="#s93" stroke-width="9.2"/>
<use href="#s94" stroke-width="4.4"/>
<use href="#s95" stroke-width="9.2"/>
<use href="#s96" stroke-width="5.9"/>
<use href="#s97" stroke-width="5.8"/>
<use href="#s98" stroke-width="5.1"/>
<use href="#s99" stroke-width="6.6"/>
<use href="#s100" stroke-width="6.6"/>
<use href="#s101" stroke-width="5.8"/>
<use href="#s103" stroke-width="3.9"/>
<use href="#s104" stroke-width="3.0"/>
<use href="#s105" stroke-width="3.0"/>
<use href="#s106" stroke-width="2.3"/>
<use href="#s107" stroke-width="1.5"/>
<use href="#s108" stroke-width="5.3"/>
<use href="#s109" stroke-width="2.2"/>
<use href="#s110" stroke-width="2.4"/>
<use href="#s111" stroke-width="9.2"/>
<use href="#s112" stroke-width="9.2"/>
<use href="#s113" stroke-width="4.8"/>
<use href="#s114" stroke-width="6.6"/>
<use href="#s115" stroke-width="6.6"/>
<use href="#s116" stroke-width="6.6"/>
<use href="#s117" stroke-width="9.2"/>
<use href="#s118" stroke-width="6.1"/>
<use href="#s119" stroke-width="3.3"/>
<use href="#s120" stroke-width="6.1"/>
<use href="#s121" stroke-width="2.0"/>
<use href="#s122" stroke-width="2.0"/>
<use href="#s123" stroke-width="3.1"/>
<use href="#s124" stroke-width="2.1"/>
<use href="#s125" stroke-width="9.2"/>
<use href="#s126" stroke-width="9.2"/>
<use href="#s127" stroke-width="9.2"/>
<use href="#s128" stroke-width="9.2"/>
<use href="#s129" stroke-width="6.6"/>
<use href="#s130" stroke-width="6.8"/>
<use href="#s131" stroke-width="6.6"/>
<use href="#s132" stroke-width="7.0"/>
<use href="#s133" stroke-width="2.3"/>
<use href="#s134" stroke-width="3.1"/>
<path d="M579.4,137.9L582.0,144.5L586.6,148.6L597.8,148.6L605.9,143.0L619.8,140.5L627.3,132.7L622.1,129.7L607.9,129.7L596.6,141.8L588.2,141.8Z" stroke="none" fill-rule="evenodd"/>
<path d="M500.7,222.0L492.7,229.4L495.7,233.6L509.9,232.3L520.4,237.5L524.0,234.5L535.9,229.1L553.5,221.6L576.1,211.5L594.6,203.0L602.3,190.2L615.5,173.0L611.6,168.3L600.2,173.6L587.8,174.6L564.9,183.0L544.5,193.2L519.5,216.5Z" stroke="none" fill-rule="evenodd"/>
<path d="M662.1,93.7L663.0,102.0L666.6,109.2L675.4,108.4L683.8,109.2L690.3,107.6L694.1,110.6L697.6,119.3L705.1,118.4L707.8,110.5L711.1,103.9L718.5,93.7Z" stroke="none" fill-rule="evenodd"/>
<path d="M661.2,122.1L663.6,128.7L667.3,126.7L674.1,122.1L679.6,115.2L677.0,112.7L673.4,116.3L667.1,116.3Z" stroke="none" fill-rule="evenodd"/>
<path d="M599.6,176.2L599.6,183.3L603.4,185.2L610.3,180.0L615.5,171.3L612.6,168.4L606.5,171.0Z" stroke="none" fill-rule="evenodd"/>
<path d="M563.4,360.5L566.9,369.2L562.9,375.5L565.3,381.9L573.9,386.9L578.6,394.9L587.3,396.2L591.2,393.5L590.2,378.6L581.4,367.6L573.9,359.8L567.0,357.4Z" stroke="none" fill-rule="evenodd"/>
<path d="M518.0,512.8L534.5,518.4L537.0,528.2L541.6,532.9L545.6,521.0L555.9,521.0L558.3,530.7L565.0,538.7L572.9,537.3L583.5,533.3L580.8,519.9L568.1,514.8L557.9,503.4L547.3,504.7L542.3,512.2L527.5,509.7Z" stroke="none" fill-rule="evenodd"/>
<path d="M490.2,548.2L495.5,558.3L496.8,565.8L500.8,573.3L507.7,572.5L517.8,564.9L527.8,562.4L536.6,555.5L522.8,546.2L509.9,538.7L499.6,544.9Z" stroke="none" fill-rule="evenodd"/>
<path d="M502.8,593.6L504.6,599.7L508.7,603.8L516.5,594.5L525.2,589.5L536.8,583.5L542.4,575.4L535.0,573.2L517.8,582.1L507.7,588.4Z" stroke="none" fill-rule="evenodd"/>
<path d="M72.7,497.0L77.0,505.3L76.2,535.7L77.4,550.2L80.5,550.2L82.3,540.5L85.6,527.6L90.8,527.6L94.0,521.7L105.0,518.6L116.3,516.6L121.7,510.7L121.7,504.1L113.6,498.1L94.2,494.5L92.8,485.1L104.9,473.5L110.9,464.2L110.2,463.3L100.9,473.3L90.0,479.8L84.0,474.0L78.7,479.7L77.4,492.3Z" stroke="none" fill-rule="evenodd"/>
<path d="M75.1,496.8L75.6,505.7L75.6,546.5L81.4,546.5L84.0,528.1L91.2,522.9L100.8,518.8L116.0,516.2L122.9,505.2L113.8,497.3L92.6,489.6L91.6,478.9L83.7,472.7L77.0,480.1Z" stroke="none" fill-rule="evenodd"/>
<path d="M59.5,566.8L61.3,570.7L64.3,571.5L66.4,568.0L66.0,564.4L62.6,563.9Z" stroke="none" fill-rule="evenodd"/>
<path d="M115.0,549.7L118.0,554.0L131.2,553.4L138.2,546.4L143.9,546.9L153.3,537.1L150.8,533.4L137.1,533.4L128.0,544.5L120.1,545.7Z" stroke="none" fill-rule="evenodd"/>
<path d="M135.3,576.9L135.3,591.6L138.9,591.6L141.4,582.0L148.8,581.0L153.3,576.5L150.8,573.3L138.9,573.3Z" stroke="none" fill-rule="evenodd"/>
<path d="M511.6,94.5L510.7,102.4L513.5,108.9L518.4,107.9L522.7,102.8L528.6,99.4L530.7,94.5Z" stroke="none" fill-rule="evenodd"/>
<path d="M498.6,145.9L505.3,150.4L517.6,149.3L522.6,142.6L535.2,138.9L538.3,134.3L538.3,119.5L533.8,117.5L525.1,127.0L516.9,136.1L507.7,138.6Z" stroke="none" fill-rule="evenodd"/>
<path d="M546.8,145.6L551.4,149.6L563.0,159.9L569.0,161.4L573.1,159.1L566.8,154.0L558.5,149.3L549.8,143.8Z" stroke="none" fill-rule="evenodd"/>
<path d="M547.6,562.1L550.2,574.1L558.4,582.3L556.7,590.1L568.5,593.2L583.4,590.1L575.2,581.5L579.7,570.4L574.1,552.9L561.7,551.5L552.6,554.6Z" stroke="none" fill-rule="evenodd"/>
<path d="M574.4,553.9L572.5,563.8L575.8,572.1L572.1,583.0L584.0,588.5L588.8,594.8L595.2,604.0L606.3,603.0L611.3,595.5L624.4,594.7L633.5,587.6L628.6,577.7L621.3,569.6L619.6,554.1L610.8,549.3L590.0,548.4Z" stroke="none" fill-rule="evenodd"/>
<path d="M542.4,524.8L546.7,532.7L554.9,537.5L559.8,533.1L558.3,523.5L550.1,520.9Z" stroke="none" fill-rule="evenodd"/>
<path d="M596.8,640.6L634.0,640.6L643.4,633.6L648.3,627.2L636.7,624.2L631.9,617.9L628.6,628.2L620.2,633.0L604.2,634.7Z" stroke="none" fill-rule="evenodd"/>
<path d="M517.0,625.0L517.9,630.2L522.2,633.1L527.9,639.2L534.7,639.2L539.1,634.3L535.2,630.9L526.5,629.6L524.9,622.2L520.3,618.8Z" stroke="none" fill-rule="evenodd"/>
<path d="M543.0,627.6L547.5,632.8L562.1,633.8L567.0,639.1L570.9,635.2L565.0,628.0L558.5,623.6L547.5,623.6Z" stroke="none" fill-rule="evenodd"/>
<path d="M576.0,644.3L581.1,652.1L587.1,658.8L593.5,658.1L598.1,650.0L596.6,643.7L590.4,639.4L580.9,638.5Z" stroke="none" fill-rule="evenodd"/>
<path d="M598.2,641.8L602.5,645.3L610.7,642.2L620.7,640.2L632.7,636.3L632.7,621.9L617.1,632.8L607.1,637.9Z" stroke="none" fill-rule="evenodd"/>
<path d="M588.5,596.9L591.0,604.3L596.9,608.2L608.4,606.3L610.7,596.9Z" stroke="none" fill-rule="evenodd"/>
<path d="M398.6,663.5L399.2,678.9L403.6,685.3L430.4,685.3L435.3,680.4L435.3,672.7L423.9,661.7L417.2,655.3L403.6,656.3Z" stroke="none" fill-rule="evenodd"/>
<path d="M458.5,673.6L462.1,678.2L475.6,678.2L480.1,674.4L480.1,669.6L475.4,665.1L470.3,667.5L464.3,668.2Z" stroke="none" fill-rule="evenodd"/>
<path d="M459.6,690.3L461.9,694.4L470.5,698.7L477.2,703.5L482.7,700.5L474.1,695.6L465.7,688.1Z" stroke="none" fill-rule="evenodd"/>
<path d="M112.9,700.2L117.2,708.7L112.7,714.0L117.4,718.2L126.3,708.0L154.7,680.1L150.7,675.4L141.6,676.2L129.7,687.4L123.0,690.7Z" stroke="none" fill-rule="evenodd"/>
<path d="M51.7,660.9L52.2,716.2L57.7,724.3L68.1,734.8L77.2,739.0L123.7,737.9L129.6,732.2L123.9,727.3L116.9,723.8L113.9,715.0L107.1,711.6L109.4,706.9L102.0,701.3L94.2,703.5L90.5,710.8L84.8,718.6L78.3,713.1L70.1,708.2L65.7,701.9L65.7,680.5L61.0,675.3L59.3,667.6Z" stroke="none" fill-rule="evenodd"/>
<path d="M141.7,742.6L154.2,742.6L150.6,734.0L145.3,735.1Z" stroke="none" fill-rule="evenodd"/>
<path d="M719.5,718.5L734.9,721.8L739.9,726.0L726.7,742.0L737.9,742.0L746.6,730.6L752.0,725.7L743.7,720.0L735.8,717.4L719.8,716.3Z" stroke="none" fill-rule="evenodd"/>
<path d="M748.8,718.6L750.6,727.3L753.8,732.4L759.0,728.7L759.7,720.4L755.7,715.3Z" stroke="none" fill-rule="evenodd"/>
<path d="M344.7,457.7L345.1,459.0L356.6,459.6L359.1,458.3L356.6,456.6Z" stroke="none" fill-rule="evenodd"/>
<path d="M480.5,549.5L478.9,555.1L483.8,557.5L490.2,555.9L488.6,551.1Z" stroke="none" fill-rule="evenodd"/>
<path d="M446.0,561.6L448.5,565.5L456.7,566.7L460.2,569.9L472.1,577.9L476.9,578.4L485.3,569.5L483.3,565.4L461.9,565.4L456.9,559.9L450.4,559.2Z" stroke="none" fill-rule="evenodd"/>
</g>
<g fill="#fdbb6d" stroke="#fdbb6d" stroke-linejoin="miter" stroke-miterlimit="2.5">
<use href="#s0" stroke-width="5.9"/>
<use href="#s1" stroke-width="8.0"/>
<use href="#s2" stroke-width="5.8"/>
<use href="#s3" stroke-width="1.2"/>
<use href="#s4" stroke-width="8.0"/>
<use href="#s5" stroke-width="1.3"/>
<use href="#s6" stroke-width="8.0"/>
<use href="#s7" stroke-width="8.0"/>
<use href="#s8" stroke-width="4.6"/>
<use href="#s9" stroke-width="1.7"/>
<use href="#s10" stroke-width="1.3"/>
<use href="#s12" stroke-width="10.0"/>
<use href="#s13" stroke-width="4.0"/>
<use href="#s15" stroke-width="1.1"/>
<use href="#s16" stroke-width="5.8"/>
<use href="#s17" stroke-width="2.0"/>
<use href="#s18" stroke-width="1.2"/>
<use href="#s19" stroke-width="4.8"/>
<use href="#s20" stroke-width="4.6"/>
<use href="#s21" stroke-width="5.4"/>
<use href="#s22" stroke-width="5.8"/>
<use href="#s24" stroke-width="7.3"/>
<use href="#s25" stroke-width="3.8"/>
<use href="#s26" stroke-width="5.2"/>
<use href="#s27" stroke-width="5.2"/>
<use href="#s28" stroke-width="5.2"/>
<use href="#s29" stroke-width="3.6"/>
<use href="#s30" stroke-width="6.6"/>
<use href="#s31" stroke-width="1.8"/>
<use href="#s32" stroke-width="3.7"/>
<use href="#s33" stroke-width="4.1"/>
<use href="#s34" stroke-width="1.6"/>
<use href="#s37" stroke-width="1.6"/>
<use href="#s38" stroke-width="1.2"/>
<use href="#s41" stroke-width="3.9"/>
<use href="#s42" stroke-width="3.9"/>
<use href="#s43" stroke-width="8.0"/>
<use href="#s44" stroke-width="3.9"/>
<use href="#s45" stroke-width="8.0"/>
<use href="#s46" stroke-width="8.0"/>
<use href="#s47" stroke-width="8.0"/>
<use href="#s48" stroke-width="8.0"/>
<use href="#s49" stroke-width="6.2"/>
<use href="#s50" stroke-width="5.2"/>
<use href="#s51" stroke-width="5.2"/>
<use href="#s52" stroke-width="1.6"/>
<use href="#s54" stroke-width="1.7"/>
<use href="#s55" stroke-width="0.9"/>
<use href="#s56" stroke-width="1.3"/>
<use href="#s57" stroke-width="8.0"/>
<use href="#s58" stroke-width="8.0"/>
<use href="#s59" stroke-width="8.0"/>
<use href="#s60" stroke-width="8.0"/>
<use href="#s61" stroke-width="1.6"/>
<use href="#s62" stroke-width="1.3"/>
<use href="#s63" stroke-width="5.9"/>
<use href="#s64" stroke-width="6.6"/>
<use href="#s65" stroke-width="2.6"/>
<use href="#s66" stroke-width="4.6"/>
<use href="#s67" stroke-width="4.6"/>
<use href="#s68" stroke-width="4.2"/>
<use href="#s69" stroke-width="8.0"/>
<use href="#s70" stroke-width="2.3"/>
<use href="#s71" stroke-width="2.5"/>
<use href="#s72" stroke-width="2.5"/>
<use href="#s73" stroke-width="4.0"/>
<use href="#s74" stroke-width="4.5"/>
<use href="#s76" stroke-width="7.3"/>
<use href="#s77" stroke-width="8.0"/>
<use href="#s78" stroke-width="8.0"/>
<use href="#s79" stroke-width="4.9"/>
<use href="#s80" stroke-width="4.9"/>
<use href="#s81" stroke-width="4.9"/>
<use href="#s82" stroke-width="4.9"/>
<use href="#s83" stroke-width="4.9"/>
<use href="#s85" stroke-width="4.2"/>
<use href="#s86" stroke-width="1.1"/>
<use href="#s87" stroke-width="2.0"/>
<use href="#s88" stroke-width="2.1"/>
<use href="#s89" stroke-width="4.6"/>
<use href="#s90" stroke-width="1.6"/>
<use href="#s91" stroke-width="8.0"/>
<use href="#s92" stroke-width="8.0"/>
<use href="#s93" stroke-width="8.0"/>
<use href="#s94" stroke-width="3.6"/>
<use href="#s95" stroke-width="8.0"/>
<use href="#s96" stroke-width="5.1"/>
<use href="#s97" stroke-width="4.9"/>
<use href="#s98" stroke-width="3.8"/>
<use href="#s99" stroke-width="5.6"/>
<use href="#s100" stroke-width="5.6"/>
<use href="#s101" stroke-width="4.9"/>
<use href="#s103" stroke-width="2.3"/>
<use href="#s104" stroke-width="2.5"/>
<use href="#s105" stroke-width="2.5"/>
<use href="#s106" stroke-width="1.9"/>
<use href="#s107" stroke-width="1.3"/>
<use href="#s108" stroke-width="4.6"/>
<use href="#s109" stroke-width="1.8"/>
<use href="#s110" stroke-width="2.1"/>
<use href="#s111" stroke-width="8.0"/>
<use href="#s112" stroke-width="8.0"/>
<use href="#s113" stroke-width="2.9"/>
<use href="#s114" stroke-width="5.6"/>
<use href="#s115" stroke-width="5.6"/>
<use href="#s116" stroke-width="5.6"/>
<use href="#s117" stroke-width="8.0"/>
<use href="#s118" stroke-width="5.2"/>
<use href="#s119" stroke-width="2.0"/>
<use href="#s120" stroke-width="5.2"/>
<use href="#s121" stroke-width="1.7"/>
<use href="#s122" stroke-width="1.7"/>
<use href="#s123" stroke-width="2.7"/>
<use href="#s124" stroke-width="1.6"/>
<use href="#s125" stroke-width="8.0"/>
<use href="#s126" stroke-width="8.0"/>
<use href="#s127" stroke-width="8.0"/>
<use href="#s128" stroke-width="8.0"/>
<use href="#s129" stroke-width="5.6"/>
<use href="#s130" stroke-width="5.9"/>
<use href="#s131" stroke-width="5.6"/>
<use href="#s132" stroke-width="6.0"/>
<use href="#s133" stroke-width="2.0"/>
<use href="#s134" stroke-width="2.7"/>
<path d="M582.0,140.7L583.2,143.7L587.1,147.1L597.4,147.1L605.3,141.6L619.1,139.1L624.9,133.0L621.8,131.1L608.5,131.1L597.2,143.2L587.9,143.2Z" stroke="none" fill-rule="evenodd"/>
<path d="M501.4,223.3L494.6,229.6L496.4,232.1L510.2,230.8L520.2,235.8L523.2,233.3L535.3,227.8L552.9,220.3L575.5,210.2L593.6,201.9L601.1,189.4L613.7,173.0L611.2,170.0L600.6,175.1L588.1,176.1L565.5,184.4L545.4,194.4L520.2,217.8Z" stroke="none" fill-rule="evenodd"/>
<path d="M663.7,95.1L664.4,101.6L667.5,107.7L675.4,106.9L683.7,107.7L690.6,106.0L695.3,109.7L698.5,117.7L704.1,117.0L706.4,109.9L709.8,103.1L715.6,95.1Z" stroke="none" fill-rule="evenodd"/>
<path d="M662.9,122.5L664.4,126.7L666.6,125.5L673.1,121.0L677.6,115.3L677.0,114.7L674.0,117.7L667.7,117.7Z" stroke="none" fill-rule="evenodd"/>
<path d="M601.3,177.0L601.3,182.3L603.2,183.3L609.1,178.9L613.5,171.6L612.3,170.3L607.3,172.5Z" stroke="none" fill-rule="evenodd"/>
<path d="M565.1,360.9L568.5,369.4L564.5,375.7L566.5,380.9L574.9,385.9L579.5,393.6L586.9,394.7L589.7,392.8L588.8,379.1L580.3,368.5L573.1,361.1L567.3,359.0Z" stroke="none" fill-rule="evenodd"/>
<path d="M522.6,512.8L535.7,517.2L538.3,527.5L541.0,530.2L544.5,519.6L557.0,519.6L559.7,530.1L565.5,537.1L572.5,535.9L581.9,532.4L579.6,521.0L567.2,516.0L557.3,504.9L548.1,506.1L543.0,513.7L527.6,511.2Z" stroke="none" fill-rule="evenodd"/>
<path d="M492.3,549.0L496.9,557.8L498.2,565.3L501.6,571.8L507.1,571.1L517.1,563.6L527.2,561.1L534.2,555.6L522.1,547.4L509.9,540.4L500.2,546.2Z" stroke="none" fill-rule="evenodd"/>
<path d="M504.6,594.1L506.0,598.8L508.6,601.4L515.4,593.3L524.4,588.1L535.7,582.2L539.8,576.4L535.2,575.0L518.6,583.5L508.7,589.7Z" stroke="none" fill-rule="evenodd"/>
<path d="M76.5,496.8L77.0,505.6L77.0,545.2L80.2,545.2L82.8,527.3L90.5,521.8L100.4,517.5L115.2,515.0L121.2,505.5L113.1,498.5L91.3,490.5L90.3,479.6L83.8,474.5L78.2,480.7Z" stroke="none" fill-rule="evenodd"/>
<path d="M116.6,549.9L118.6,552.8L130.6,552.3L137.7,545.2L143.5,545.7L151.8,536.9L150.2,534.5L137.7,534.5L128.7,545.6L120.6,546.8Z" stroke="none" fill-rule="evenodd"/>
<path d="M136.5,577.4L136.5,590.5L138.0,590.5L140.5,581.0L148.2,579.9L151.7,576.4L150.2,574.5L139.4,574.5Z" stroke="none" fill-rule="evenodd"/>
<path d="M512.9,95.9L512.2,102.2L514.4,107.3L517.6,106.6L521.7,101.7L527.5,98.4L528.5,95.9Z" stroke="none" fill-rule="evenodd"/>
<path d="M501.0,145.8L505.7,148.9L516.8,147.9L521.8,141.3L534.3,137.6L536.8,133.9L536.8,120.4L534.2,119.2L526.2,128.0L517.7,137.4L508.4,139.9Z" stroke="none" fill-rule="evenodd"/>
<path d="M549.3,562.5L551.7,573.3L560.2,581.8L558.6,589.0L568.5,591.6L580.2,589.1L573.3,581.9L577.9,570.3L572.8,554.4L561.9,553.1L553.6,556.0Z" stroke="none" fill-rule="evenodd"/>
<path d="M575.2,554.6L573.4,563.7L576.7,572.0L573.2,582.5L584.6,587.8L589.5,594.3L595.7,603.1L605.8,602.2L610.8,594.6L624.1,593.8L632.4,587.3L627.8,578.2L620.4,570.0L618.7,554.7L610.6,550.2L590.1,549.4Z" stroke="none" fill-rule="evenodd"/>
<path d="M600.9,639.2L633.5,639.2L642.4,632.6L645.8,628.1L635.8,625.5L632.4,621.0L629.8,629.2L620.6,634.4L604.8,636.1Z" stroke="none" fill-rule="evenodd"/>
<path d="M518.5,625.3L519.2,629.3L523.2,632.0L528.5,637.7L534.0,637.7L537.1,634.4L534.5,632.3L525.3,630.9L523.6,623.1L520.8,621.0Z" stroke="none" fill-rule="evenodd"/>
<path d="M545.1,627.7L548.2,631.4L562.7,632.4L567.1,637.0L569.0,635.1L564.0,629.1L558.1,625.1L548.1,625.1Z" stroke="none" fill-rule="evenodd"/>
<path d="M577.6,644.4L582.1,651.3L587.6,657.5L592.7,656.9L596.7,649.8L595.4,644.5L590.0,640.6L581.5,639.8Z" stroke="none" fill-rule="evenodd"/>
<path d="M601.2,642.2L602.8,643.4L610.2,640.6L620.3,638.6L631.1,635.1L631.1,625.0L617.9,634.2L607.8,639.3Z" stroke="none" fill-rule="evenodd"/>
<path d="M589.8,597.8L591.8,603.7L597.1,607.2L607.6,605.4L609.5,597.8Z" stroke="none" fill-rule="evenodd"/>
<path d="M399.7,663.8L400.3,678.5L404.2,684.2L429.9,684.2L434.2,679.9L434.2,673.1L423.2,662.4L416.8,656.4L404.2,657.3Z" stroke="none" fill-rule="evenodd"/>
<path d="M460.3,673.7L462.8,676.9L475.1,676.9L478.8,673.8L478.8,670.2L475.2,666.7L470.7,668.8L464.9,669.4Z" stroke="none" fill-rule="evenodd"/>
<path d="M461.5,691.0L462.9,693.4L471.1,697.6L477.3,702.0L480.0,700.5L473.3,696.7L465.4,689.6Z" stroke="none" fill-rule="evenodd"/>
<path d="M114.5,700.5L118.7,708.9L114.5,713.9L117.3,716.3L125.3,707.1L152.9,680.0L150.1,676.8L142.1,677.4L130.4,688.5L123.7,691.8Z" stroke="none" fill-rule="evenodd"/>
<path d="M52.8,663.3L53.3,715.8L58.5,723.7L68.7,733.9L77.4,737.9L123.2,736.9L128.0,732.3L123.3,728.2L116.0,724.6L113.0,715.7L105.6,712.1L108.1,707.2L101.8,702.5L94.9,704.4L91.4,711.4L85.0,720.1L77.6,714.0L69.4,709.0L64.6,702.2L64.6,680.9L60.0,675.8L58.3,668.2Z" stroke="none" fill-rule="evenodd"/>
<path d="M144.0,741.1L152.0,741.1L149.7,735.7L146.3,736.4Z" stroke="none" fill-rule="evenodd"/>
<path d="M720.5,717.8L735.3,720.9L741.2,725.9L728.6,741.1L737.4,741.1L745.9,730.0L750.5,725.8L743.3,720.9L735.6,718.3L720.6,717.3Z" stroke="none" fill-rule="evenodd"/>
<path d="M750.7,719.5L752.1,726.7L754.3,730.1L757.4,727.8L758.0,720.9L755.2,717.4Z" stroke="none" fill-rule="evenodd"/>
<path d="M481.5,551.2L480.6,554.3L483.9,556.0L488.4,554.9L487.5,552.4Z" stroke="none" fill-rule="evenodd"/>
<path d="M448.1,562.2L449.4,564.1L457.3,565.3L461.1,568.8L472.6,576.5L476.4,576.9L483.6,569.3L482.4,566.9L461.3,566.9L456.2,561.3L450.7,560.7Z" stroke="none" fill-rule="evenodd"/>
</g>
<g fill="#fee79b" stroke="#fee79b" stroke-linejoin="miter" stroke-miterlimit="2.5">
<use href="#s0" stroke-width="5.0"/>
<use href="#s1" stroke-width="6.8"/>
<use href="#s2" stroke-width="4.8"/>
<use href="#s3" stroke-width="0.9"/>
<use href="#s4" stroke-width="6.8"/>
<use href="#s5" stroke-width="0.4"/>
<use href="#s6" stroke-width="6.8"/>
<use href="#s7" stroke-width="6.8"/>
<use href="#s8" stroke-width="3.9"/>
<use href="#s9" stroke-width="1.3"/>
<use href="#s10" stroke-width="1.1"/>
<use href="#s12" stroke-width="8.5"/>
<use href="#s13" stroke-width="2.7"/>
<use href="#s15" stroke-width="0.9"/>
<use href="#s16" stroke-width="4.8"/>
<use href="#s17" stroke-width="1.7"/>
<use href="#s18" stroke-width="0.9"/>
<use href="#s19" stroke-width="3.7"/>
<use href="#s20" stroke-width="3.4"/>
<use href="#s21" stroke-width="4.2"/>
<use href="#s22" stroke-width="4.8"/>
<use href="#s24" stroke-width="6.2"/>
<use href="#s25" stroke-width="2.7"/>
<use href="#s26" stroke-width="4.3"/>
<use href="#s27" stroke-width="4.3"/>
<use href="#s28" stroke-width="4.3"/>
<use href="#s29" stroke-width="2.8"/>
<use href="#s30" stroke-width="5.6"/>
<use href="#s31" stroke-width="1.4"/>
<use href="#s32" stroke-width="3.0"/>
<use href="#s33" stroke-width="3.4"/>
<use href="#s34" stroke-width="1.2"/>
<use href="#s37" stroke-width="1.2"/>
<use href="#s38" stroke-width="0.9"/>
<use href="#s41" stroke-width="3.3"/>
<use href="#s42" stroke-width="3.3"/>
<use href="#s43" stroke-width="6.8"/>
<use href="#s44" stroke-width="3.3"/>
<use href="#s45" stroke-width="6.8"/>
<use href="#s46" stroke-width="6.8"/>
<use href="#s47" stroke-width="6.8"/>
<use href="#s48" stroke-width="6.8"/>
<use href="#s49" stroke-width="5.2"/>
<use href="#s50" stroke-width="4.3"/>
<use href="#s51" stroke-width="4.3"/>
<use href="#s52" stroke-width="1.2"/>
<use href="#s54" stroke-width="1.3"/>
<use href="#s55" stroke-width="0.5"/>
<use href="#s56" stroke-width="0.4"/>
<use href="#s57" stroke-width="6.8"/>
<use href="#s58" stroke-width="6.8"/>
<use href="#s59" stroke-width="6.8"/>
<use href="#s60" stroke-width="6.8"/>
<use href="#s61" stroke-width="0.8"/>
<use href="#s62" stroke-width="0.4"/>
<use href="#s63" stroke-width="5.0"/>
<use href="#s64" stroke-width="5.6"/>
<use href="#s65" stroke-width="2.1"/>
<use href="#s66" stroke-width="3.9"/>
<use href="#s67" stroke-width="3.9"/>
<use href="#s68" stroke-width="3.3"/>
<use href="#s69" stroke-width="6.8"/>
<use href="#s70" stroke-width="0.8"/>
<use href="#s71" stroke-width="2.1"/>
<use href="#s72" stroke-width="2.1"/>
<use href="#s73" stroke-width="3.0"/>
<use href="#s74" stroke-width="3.7"/>
<use href="#s76" stroke-width="6.2"/>
<use href="#s77" stroke-width="6.8"/>
<use href="#s78" stroke-width="6.8"/>
<use href="#s79" stroke-width="4.0"/>
<use href="#s80" stroke-width="4.0"/>
<use href="#s81" stroke-width="4.0"/>
<use href="#s82" stroke-width="4.0"/>
<use href="#s83" stroke-width="4.0"/>
<use href="#s85" stroke-width="3.3"/>
<use href="#s86" stroke-width="0.8"/>
<use href="#s87" stroke-width="1.7"/>
<use href="#s88" stroke-width="1.7"/>
<use href="#s89" stroke-width="3.9"/>
<use href="#s90" stroke-width="1.2"/>
<use href="#s91" stroke-width="6.8"/>
<use href="#s92" stroke-width="6.8"/>
<use href="#s93" stroke-width="6.8"/>
<use href="#s94" stroke-width="2.8"/>
<use href="#s95" stroke-width="6.8"/>
<use href="#s96" stroke-width="4.2"/>
<use href="#s97" stroke-width="4.0"/>
<use href="#s98" stroke-width="2.5"/>
<use href="#s99" stroke-width="4.5"/>
<use href="#s100" stroke-width="4.5"/>
<use href="#s101" stroke-width="4.0"/>
<use href="#s103" stroke-width="0.8"/>
<use href="#s104" stroke-width="2.1"/>
<use href="#s105" stroke-width="2.1"/>
<use href="#s106" stroke-width="1.6"/>
<use href="#s107" stroke-width="1.1"/>
<use href="#s108" stroke-width="3.9"/>
<use href="#s109" stroke-width="1.4"/>
<use href="#s110" stroke-width="1.7"/>
<use href="#s111" stroke-width="6.8"/>
<use href="#s112" stroke-width="6.8"/>
<use href="#s113" stroke-width="1.0"/>
<use href="#s114" stroke-width="4.5"/>
<use href="#s115" stroke-width="4.5"/>
<use href="#s116" stroke-width="4.5"/>
<use href="#s117" stroke-width="6.8"/>
<use href="#s118" stroke-width="4.2"/>
<use href="#s119" stroke-width="0.7"/>
<use href="#s120" stroke-width="4.4"/>
<use href="#s121" stroke-width="1.4"/>
<use href="#s122" stroke-width="1.4"/>
<use href="#s123" stroke-width="2.2"/>
<use href="#s124" stroke-width="1.2"/>
<use href="#s125" stroke-width="6.8"/>
<use href="#s126" stroke-width="6.8"/>
<use href="#s127" stroke-width="6.8"/>
<use href="#s128" stroke-width="6.8"/>
<use href="#s129" stroke-width="4.5"/>
<use href="#s130" stroke-width="5.0"/>
<use href="#s131" stroke-width="4.5"/>
<use href="#s132" stroke-width="5.0"/>
<use href="#s133" stroke-width="1.7"/>
<use href="#s134" stroke-width="2.2"/>
<path d="M585.5,143.7L587.7,145.7L596.9,145.7L604.8,140.3L618.3,137.8L622.6,133.3L621.4,132.6L609.1,132.6L597.8,144.6L587.6,144.6Z" stroke="none" fill-rule="evenodd"/>
<path d="M598.8,138.2L605.6,139.9L617.4,138.1L622.3,131.6L607.9,131.6Z" stroke="none" fill-rule="evenodd"/>
<path d="M502.1,224.6L496.5,229.8L497.1,230.5L510.5,229.3L520.0,234.1L522.5,232.1L534.7,226.5L552.3,218.9L574.9,208.9L592.6,200.8L599.9,188.5L611.8,173.1L610.8,171.8L601.0,176.5L588.4,177.5L566.0,185.7L546.2,195.6L521.0,219.1Z" stroke="none" fill-rule="evenodd"/>
<path d="M523.1,217.4L532.3,223.8L548.7,220.5L566.4,210.5L581.5,206.7L595.3,197.0L597.7,181.9L590.7,177.2L574.5,186.4L551.3,195.7L543.7,206.8Z" stroke="none" fill-rule="evenodd"/>
<path d="M665.3,96.6L665.8,101.2L668.3,106.2L675.4,105.5L683.6,106.3L691.0,104.4L696.5,108.8L699.4,116.2L703.0,115.7L705.1,109.4L708.6,102.4L712.8,96.6Z" stroke="none" fill-rule="evenodd"/>
<path d="M673.9,94.1L676.9,104.3L683.5,108.0L692.2,107.1L695.2,94.1Z" stroke="none" fill-rule="evenodd"/>
<path d="M693.4,100.0L694.4,109.4L700.4,111.4L708.5,109.4L706.4,99.0Z" stroke="none" fill-rule="evenodd"/>
<path d="M664.6,122.9L665.2,124.6L665.8,124.2L672.1,120.0L672.7,119.2L668.3,119.2Z" stroke="none" fill-rule="evenodd"/>
<path d="M602.9,177.8L602.9,181.3L603.0,181.4L607.9,177.8L610.9,172.7L608.2,173.9Z" stroke="none" fill-rule="evenodd"/>
<path d="M566.8,361.3L570.1,369.5L566.1,375.8L567.7,379.9L576.0,384.8L580.4,392.3L586.6,393.2L588.2,392.1L587.3,379.7L579.2,369.5L572.3,362.3L567.6,360.6Z" stroke="none" fill-rule="evenodd"/>
<path d="M566.1,370.6L567.5,380.5L576.4,386.1L580.3,394.4L587.2,394.4L589.4,385.5L585.9,377.8L578.3,375.3L571.6,366.3Z" stroke="none" fill-rule="evenodd"/>
<path d="M527.1,512.8L537.0,516.1L539.6,526.8L540.4,527.5L543.5,518.1L558.2,518.1L561.0,529.4L566.1,535.5L572.2,534.5L580.2,531.5L578.3,522.0L566.4,517.3L556.8,506.4L548.9,507.4L543.7,515.3L527.7,512.7Z" stroke="none" fill-rule="evenodd"/>
<path d="M494.3,549.8L498.3,557.3L499.5,564.9L502.4,570.2L506.6,569.7L516.5,562.3L526.5,559.8L531.7,555.7L521.3,548.7L510.0,542.1L500.9,547.6Z" stroke="none" fill-rule="evenodd"/>
<path d="M504.8,545.3L507.7,561.0L517.6,563.0L534.0,556.1L517.8,548.2Z" stroke="none" fill-rule="evenodd"/>
<path d="M506.4,594.5L507.5,598.0L508.5,599.0L514.3,592.0L523.6,586.7L534.6,580.9L537.2,577.3L535.4,576.7L519.4,584.9L509.8,591.0Z" stroke="none" fill-rule="evenodd"/>
<path d="M77.8,496.8L78.3,505.6L78.3,543.9L79.1,543.9L81.5,526.6L89.9,520.6L100.0,516.3L114.4,513.8L119.5,505.7L112.5,499.7L90.1,491.5L89.1,480.3L84.0,476.4L79.5,481.3Z" stroke="none" fill-rule="evenodd"/>
<path d="M80.2,480.6L79.3,491.9L85.7,493.5L88.5,482.9L85.5,476.2Z" stroke="none" fill-rule="evenodd"/>
<path d="M93.1,498.8L93.6,509.5L100.2,513.7L109.7,508.3L111.0,502.6L101.7,496.1Z" stroke="none" fill-rule="evenodd"/>
<path d="M118.2,550.2L119.2,551.6L130.1,551.1L137.3,544.0L143.0,544.5L150.3,536.8L149.5,535.7L138.2,535.7L129.3,546.6L121.0,547.9Z" stroke="none" fill-rule="evenodd"/>
<path d="M137.6,577.9L137.6,587.1L139.5,579.9L147.7,578.8L150.2,576.3L149.6,575.7L139.9,575.7Z" stroke="none" fill-rule="evenodd"/>
<path d="M514.2,97.4L513.7,102.0L515.2,105.6L516.8,105.3L520.8,100.6L526.3,97.4L526.3,97.4Z" stroke="none" fill-rule="evenodd"/>
<path d="M503.5,145.7L506.1,147.4L516.0,146.6L520.9,140.1L533.4,136.4L535.4,133.5L535.4,121.4L534.5,121.0L527.3,129.0L518.4,138.7L509.0,141.2Z" stroke="none" fill-rule="evenodd"/>
<path d="M551.0,562.8L553.2,572.4L562.0,581.3L560.5,587.8L568.5,589.9L577.0,588.1L571.4,582.3L576.2,570.2L571.6,555.9L562.0,554.8L554.7,557.3Z" stroke="none" fill-rule="evenodd"/>
<path d="M576.0,555.3L574.4,563.6L577.7,572.0L574.4,582.0L585.2,587.0L590.3,593.8L596.1,602.1L605.3,601.3L610.3,593.7L623.7,592.9L631.2,587.1L627.0,578.7L619.5,570.4L617.8,555.3L610.3,551.1L590.2,550.3Z" stroke="none" fill-rule="evenodd"/>
<path d="M538.8,523.9L547.1,518.6L556.1,520.1L562.5,523.4L569.4,531.4L578.9,533.2L583.7,530.6L590.2,535.2L597.5,530.2L586.7,521.9L581.4,515.2L574.3,513.5L564.7,507.1L559.1,502.0L545.9,503.9L538.8,509.0Z" stroke="none" fill-rule="evenodd"/>
<path d="M605.0,637.7L633.0,637.7L641.4,631.5L643.3,628.9L635.0,626.7L632.9,624.1L631.0,630.1L621.1,635.8L605.4,637.5Z" stroke="none" fill-rule="evenodd"/>
<path d="M619.7,629.4L619.7,636.2L630.1,637.2L640.5,635.8L650.6,628.6L637.6,622.1L630.5,618.6Z" stroke="none" fill-rule="evenodd"/>
<path d="M520.0,625.5L520.5,628.5L523.8,630.7L522.3,623.9L521.2,623.1Z" stroke="none" fill-rule="evenodd"/>
<path d="M525.5,632.3L529.2,636.3L533.4,636.3L535.0,634.5L533.9,633.6Z" stroke="none" fill-rule="evenodd"/>
<path d="M547.1,627.9L548.9,630.0L563.4,631.0L565.7,633.5L563.0,630.2L557.6,626.5L548.6,626.5Z" stroke="none" fill-rule="evenodd"/>
<path d="M579.3,644.5L583.2,650.5L588.2,656.1L591.9,655.6L595.3,649.6L594.3,645.3L589.5,641.9L582.0,641.2Z" stroke="none" fill-rule="evenodd"/>
<path d="M613.3,638.4L619.9,637.1L629.5,633.9L629.5,628.2L618.8,635.6Z" stroke="none" fill-rule="evenodd"/>
<path d="M591.1,598.8L592.5,603.1L597.3,606.2L606.9,604.6L608.3,598.8Z" stroke="none" fill-rule="evenodd"/>
<path d="M400.8,664.1L401.3,678.2L404.7,683.1L429.5,683.1L433.1,679.5L433.1,673.6L422.4,663.2L416.4,657.5L404.8,658.3Z" stroke="none" fill-rule="evenodd"/>
<path d="M462.0,673.9L463.4,675.6L474.6,675.6L477.5,673.2L477.5,670.7L474.9,668.2L471.1,670.0L465.5,670.7Z" stroke="none" fill-rule="evenodd"/>
<path d="M463.4,691.7L463.8,692.5L470.3,695.7L465.2,691.1Z" stroke="none" fill-rule="evenodd"/>
<path d="M116.1,700.8L120.3,709.0L116.4,713.7L117.2,714.5L124.4,706.3L151.1,680.0L149.6,678.1L142.7,678.7L131.2,689.5L124.5,692.9Z" stroke="none" fill-rule="evenodd"/>
<path d="M120.3,693.8L128.6,701.7L135.1,697.0L129.0,689.2Z" stroke="none" fill-rule="evenodd"/>
<path d="M53.9,665.7L54.4,715.5L59.4,723.0L69.4,733.0L77.7,736.8L122.8,735.8L126.4,732.3L122.7,729.1L115.2,725.4L112.1,716.5L104.2,712.6L106.7,707.6L101.5,703.7L95.7,705.3L92.4,712.0L85.2,721.7L77.0,714.9L68.6,709.8L63.5,702.5L63.5,681.3L59.0,676.3L57.4,668.8Z" stroke="none" fill-rule="evenodd"/>
<path d="M146.3,739.7L149.8,739.7L148.9,737.3L147.3,737.7Z" stroke="none" fill-rule="evenodd"/>
<path d="M730.2,718.9L735.7,720.1L742.5,725.8L730.6,740.1L737.0,740.1L745.2,729.4L749.0,725.9L742.9,721.7L735.4,719.2Z" stroke="none" fill-rule="evenodd"/>
<path d="M752.5,720.4L753.6,726.1L754.7,727.8L755.9,726.9L756.3,721.4L754.8,719.4Z" stroke="none" fill-rule="evenodd"/>
<path d="M482.5,552.9L482.3,553.6L484.1,554.4L486.5,553.8L486.4,553.6Z" stroke="none" fill-rule="evenodd"/>
<path d="M450.1,562.7L450.2,562.8L456.4,563.7L455.5,562.7L451.0,562.2Z" stroke="none" fill-rule="evenodd"/>
<path d="M463.0,568.3L473.1,575.1L475.8,575.4L481.8,569.0L481.5,568.3Z" stroke="none" fill-rule="evenodd"/>
</g>
<g fill="#f7fcce" stroke="#f7fcce" stroke-linejoin="miter" stroke-miterlimit="2.5">
<use href="#s0" stroke-width="4.1"/>
<use href="#s1" stroke-width="5.5"/>
<use href="#s2" stroke-width="3.7"/>
<use href="#s3" stroke-width="0.7"/>
<use href="#s4" stroke-width="5.5"/>
<use href="#s6" stroke-width="5.5"/>
<use href="#s7" stroke-width="5.5"/>
<use href="#s8" stroke-width="3.2"/>
<use href="#s9" stroke-width="0.9"/>
<use href="#s10" stroke-width="0.8"/>
<use href="#s12" stroke-width="6.9"/>
<use href="#s13" stroke-width="1.3"/>
<use href="#s15" stroke-width="0.6"/>
<use href="#s16" stroke-width="3.7"/>
<use href="#s17" stroke-width="1.3"/>
<use href="#s18" stroke-width="0.7"/>
<use href="#s19" stroke-width="2.7"/>
<use href="#s20" stroke-width="2.3"/>
<use href="#s21" stroke-width="3.0"/>
<use href="#s22" stroke-width="3.7"/>
<use href="#s24" stroke-width="5.1"/>
<use href="#s25" stroke-width="1.6"/>
<use href="#s26" stroke-width="3.3"/>
<use href="#s27" stroke-width="3.3"/>
<use href="#s28" stroke-width="3.3"/>
<use href="#s29" stroke-width="2.0"/>
<use href="#s30" stroke-width="4.6"/>
<use href="#s31" stroke-width="1.0"/>
<use href="#s32" stroke-width="2.4"/>
<use href="#s33" stroke-width="2.8"/>
<use href="#s34" stroke-width="0.7"/>
<use href="#s37" stroke-width="0.7"/>
<use href="#s38" stroke-width="0.7"/>
<use href="#s41" stroke-width="2.7"/>
<use href="#s42" stroke-width="2.7"/>
<use href="#s43" stroke-width="5.5"/>
<use href="#s44" stroke-width="2.7"/>
<use href="#s45" stroke-width="5.5"/>
<use href="#s46" stroke-width="5.5"/>
<use href="#s47" stroke-width="5.5"/>
<use href="#s48" stroke-width="5.5"/>
<use href="#s49" stroke-width="4.3"/>
<use href="#s50" stroke-width="3.3"/>
<use href="#s51" stroke-width="3.3"/>
<use href="#s52" stroke-width="0.7"/>
<use href="#s54" stroke-width="0.9"/>
<use href="#s55" stroke-width="0.2"/>
<use href="#s57" stroke-width="5.5"/>
<use href="#s58" stroke-width="5.5"/>
<use href="#s59" stroke-width="5.5"/>
<use href="#s60" stroke-width="5.5"/>
<use href="#s61" stroke-width="0.0"/>
<use href="#s63" stroke-width="4.1"/>
<use href="#s64" stroke-width="4.6"/>
<use href="#s65" stroke-width="1.6"/>
<use href="#s66" stroke-width="3.2"/>
<use href="#s67" stroke-width="3.2"/>
<use href="#s68" stroke-width="2.3"/>
<use href="#s69" stroke-width="5.5"/>
<use href="#s71" stroke-width="1.7"/>
<use href="#s72" stroke-width="1.7"/>
<use href="#s73" stroke-width="2.0"/>
<use href="#s74" stroke-width="2.9"/>
<use href="#s76" stroke-width="5.1"/>
<use href="#s77" stroke-width="5.5"/>
<use href="#s78" stroke-width="5.5"/>
<use href="#s79" stroke-width="3.1"/>
<use href="#s80" stroke-width="3.1"/>
<use href="#s81" stroke-width="3.1"/>
<use href="#s82" stroke-width="3.1"/>
<use href="#s83" stroke-width="3.1"/>
<use href="#s85" stroke-width="2.3"/>
<use href="#s86" stroke-width="0.5"/>
<use href="#s87" stroke-width="1.3"/>
<use href="#s88" stroke-width="1.3"/>
<use href="#s89" stroke-width="3.2"/>
<use href="#s90" stroke-width="0.7"/>
<use href="#s91" stroke-width="5.5"/>
<use href="#s92" stroke-width="5.5"/>
<use href="#s93" stroke-width="5.5"/>
<use href="#s94" stroke-width="2.0"/>
<use href="#s95" stroke-width="5.5"/>
<use href="#s96" stroke-width="3.4"/>
<use href="#s97" stroke-width="3.1"/>
<use href="#s98" stroke-width="1.3"/>
<use href="#s99" stroke-width="3.5"/>
<use href="#s100" stroke-width="3.5"/>
<use href="#s101" stroke-width="3.1"/>
<use href="#s104" stroke-width="1.7"/>
<use href="#s105" stroke-width="1.7"/>
<use href="#s106" stroke-width="1.2"/>
<use href="#s107" stroke-width="0.8"/>
<use href="#s108" stroke-width="3.2"/>
<use href="#s109" stroke-width="1.0"/>
<use href="#s110" stroke-width="1.3"/>
<use href="#s111" stroke-width="5.5"/>
<use href="#s112" stroke-width="5.5"/>
<use href="#s114" stroke-width="3.5"/>
<use href="#s115" stroke-width="3.5"/>
<use href="#s116" stroke-width="3.5"/>
<use href="#s117" stroke-width="5.5"/>
<use href="#s118" stroke-width="3.3"/>
<use href="#s120" stroke-width="3.6"/>
<use href="#s121" stroke-width="1.1"/>
<use href="#s122" stroke-width="1.1"/>
<use href="#s123" stroke-width="1.8"/>
<use href="#s124" stroke-width="0.7"/>
<use href="#s125" stroke-width="5.5"/>
<use href="#s126" stroke-width="5.5"/>
<use href="#s127" stroke-width="5.5"/>
<use href="#s128" stroke-width="5.5"/>
<use href="#s129" stroke-width="3.5"/>
<use href="#s130" stroke-width="4.1"/>
<use href="#s131" stroke-width="3.5"/>
<use href="#s132" stroke-width="4.0"/>
<use href="#s133" stroke-width="1.3"/>
<use href="#s134" stroke-width="1.8"/>
<path d="M600.8,137.8L605.6,139.0L616.9,137.3L620.5,132.4L608.2,132.4Z" stroke="none" fill-rule="evenodd"/>
<path d="M526.1,217.6L532.6,222.2L548.2,219.1L565.8,209.0L580.9,205.2L593.9,196.1L596.0,182.7L590.6,179.1L575.1,187.9L552.3,197.0L544.8,208.1Z" stroke="none" fill-rule="evenodd"/>
<path d="M553.2,204.1L565.4,208.2L584.4,202.8L594.9,190.7L588.7,182.4L574.3,191.1L553.1,203.2Z" stroke="none" fill-rule="evenodd"/>
<path d="M675.2,95.1L677.8,103.6L683.7,107.0L691.3,106.1L693.9,95.1Z" stroke="none" fill-rule="evenodd"/>
<path d="M694.5,100.9L695.4,108.6L700.5,110.3L707.3,108.6L705.6,100.1Z" stroke="none" fill-rule="evenodd"/>
<path d="M566.9,370.9L568.2,380.1L577.0,385.6L580.7,393.7L586.6,393.7L588.6,385.5L585.4,378.5L577.8,375.9L571.5,367.4Z" stroke="none" fill-rule="evenodd"/>
<path d="M506.0,546.6L508.6,560.2L517.5,561.9L531.5,556.1L517.5,549.2Z" stroke="none" fill-rule="evenodd"/>
<path d="M81.0,481.0L80.2,491.2L85.1,492.4L87.6,483.0L85.1,477.6Z" stroke="none" fill-rule="evenodd"/>
<path d="M94.1,499.5L94.6,508.9L100.2,512.5L108.9,507.7L109.9,503.0L101.5,497.2Z" stroke="none" fill-rule="evenodd"/>
<path d="M119.9,550.3L129.6,550.0L136.8,542.8L142.5,543.3L148.6,536.9L138.8,536.9L129.9,547.7L121.5,549.1Z" stroke="none" fill-rule="evenodd"/>
<path d="M138.8,578.4L138.8,578.8L147.1,577.7L148.0,576.8L140.4,576.8Z" stroke="none" fill-rule="evenodd"/>
<path d="M576.9,556.0L575.3,563.5L578.7,572.0L575.5,581.5L585.8,586.3L591.0,593.2L596.6,601.1L604.8,600.4L609.8,592.8L623.4,592.0L630.0,586.8L626.3,579.3L618.6,570.8L617.0,555.9L610.1,552.0L590.4,551.2Z" stroke="none" fill-rule="evenodd"/>
<path d="M540.2,521.3L546.8,517.1L556.5,518.7L563.4,522.3L570.1,530.1L578.6,531.7L583.8,528.9L590.2,533.5L595.0,530.2L585.7,523.0L580.6,516.5L573.8,514.8L563.8,508.2L558.6,503.5L546.4,505.2L540.2,509.7Z" stroke="none" fill-rule="evenodd"/>
<path d="M621.4,630.1L621.4,634.7L630.1,635.6L639.9,634.2L647.4,628.9L636.9,623.6L630.8,620.7Z" stroke="none" fill-rule="evenodd"/>
<path d="M580.9,644.6L584.2,649.7L588.7,654.7L591.1,654.4L593.9,649.4L593.1,646.0L589.0,643.2L582.6,642.5Z" stroke="none" fill-rule="evenodd"/>
<path d="M592.4,599.7L593.3,602.5L597.5,605.2L606.1,603.8L607.1,599.7Z" stroke="none" fill-rule="evenodd"/>
<path d="M401.9,664.5L402.4,677.8L405.3,682.1L429.0,682.1L432.1,679.0L432.1,674.1L421.7,664.0L416.0,658.7L405.4,659.4Z" stroke="none" fill-rule="evenodd"/>
<path d="M463.8,674.0L464.0,674.3L474.2,674.3L476.2,672.6L476.2,671.3L474.7,669.8L471.4,671.3L466.1,671.9Z" stroke="none" fill-rule="evenodd"/>
<path d="M117.7,701.1L121.2,707.9L123.4,705.4L149.4,679.9L149.0,679.5L143.2,679.9L131.9,690.6L125.2,694.0Z" stroke="none" fill-rule="evenodd"/>
<path d="M121.8,694.0L128.7,700.6L133.9,696.9L128.8,690.3Z" stroke="none" fill-rule="evenodd"/>
<path d="M55.0,668.1L55.5,715.2L60.2,722.3L70.0,732.1L77.9,735.7L122.3,734.7L124.8,732.3L122.1,730.0L114.3,726.2L111.3,717.3L102.7,713.1L105.3,707.9L101.3,704.9L96.4,706.2L93.3,712.5L85.4,723.3L76.4,715.8L67.9,710.6L62.5,702.9L62.5,681.7L58.0,676.8L56.4,669.3Z" stroke="none" fill-rule="evenodd"/>
<path d="M64.2,718.9L66.6,727.2L74.8,732.2L85.6,731.7L85.7,731.5L80.0,724.2L64.3,718.8Z" stroke="none" fill-rule="evenodd"/>
<path d="M738.6,721.3L743.8,725.7L732.6,739.2L736.5,739.2L744.5,728.8L747.5,726.0L742.4,722.6Z" stroke="none" fill-rule="evenodd"/>
</g>
<g fill="#d1ecf4" stroke="#d1ecf4" stroke-linejoin="miter" stroke-miterlimit="2.5">
<use href="#s0" stroke-width="3.2"/>
<use href="#s1" stroke-width="4.3"/>
<use href="#s2" stroke-width="2.6"/>
<use href="#s3" stroke-width="0.4"/>
<use href="#s4" stroke-width="4.3"/>
<use href="#s6" stroke-width="4.3"/>
<use href="#s7" stroke-width="4.3"/>
<use href="#s8" stroke-width="2.5"/>
<use href="#s9" stroke-width="0.4"/>
<use href="#s10" stroke-width="0.6"/>
<use href="#s12" stroke-width="5.4"/>
<use href="#s13" stroke-width="0.0"/>
<use href="#s15" stroke-width="0.3"/>
<use href="#s16" stroke-width="2.6"/>
<use href="#s17" stroke-width="1.0"/>
<use href="#s18" stroke-width="0.4"/>
<use href="#s19" stroke-width="1.6"/>
<use href="#s20" stroke-width="1.1"/>
<use href="#s21" stroke-width="1.8"/>
<use href="#s22" stroke-width="2.6"/>
<use href="#s24" stroke-width="3.9"/>
<use href="#s25" stroke-width="0.5"/>
<use href="#s26" stroke-width="2.4"/>
<use href="#s27" stroke-width="2.4"/>
<use href="#s28" stroke-width="2.4"/>
<use href="#s29" stroke-width="1.2"/>
<use href="#s30" stroke-width="3.6"/>
<use href="#s31" stroke-width="0.6"/>
<use href="#s32" stroke-width="1.7"/>
<use href="#s33" stroke-width="2.1"/>
<use href="#s34" stroke-width="0.2"/>
<use href="#s37" stroke-width="0.2"/>
<use href="#s38" stroke-width="0.4"/>
<use href="#s41" stroke-width="2.1"/>
<use href="#s42" stroke-width="2.1"/>
<use href="#s43" stroke-width="4.3"/>
<use href="#s44" stroke-width="2.1"/>
<use href="#s45" stroke-width="4.3"/>
<use href="#s46" stroke-width="4.3"/>
<use href="#s47" stroke-width="4.3"/>
<use href="#s48" stroke-width="4.3"/>
<use href="#s49" stroke-width="3.3"/>
<use href="#s50" stroke-width="2.4"/>
<use href="#s51" stroke-width="2.4"/>
<use href="#s52" stroke-width="0.2"/>
<use href="#s54" stroke-width="0.4"/>
<use href="#s57" stroke-width="4.3"/>
<use href="#s58" stroke-width="4.3"/>
<use href="#s59" stroke-width="4.3"/>
<use href="#s60" stroke-width="4.3"/>
<use href="#s63" stroke-width="3.2"/>
<use href="#s64" stroke-width="3.6"/>
<use href="#s65" stroke-width="1.2"/>
<use href="#s66" stroke-width="2.5"/>
<use href="#s67" stroke-width="2.5"/>
<use href="#s68" stroke-width="1.4"/>
<use href="#s69" stroke-width="4.3"/>
<use href="#s71" stroke-width="1.3"/>
<use href="#s72" stroke-width="1.3"/>
<use href="#s73" stroke-width="1.0"/>
<use href="#s74" stroke-width="2.1"/>
<use href="#s76" stroke-width="3.9"/>
<use href="#s77" stroke-width="4.3"/>
<use href="#s78" stroke-width="4.3"/>
<use href="#s79" stroke-width="2.2"/>
<use href="#s80" stroke-width="2.2"/>
<use href="#s81" stroke-width="2.2"/>
<use href="#s82" stroke-width="2.2"/>
<use href="#s83" stroke-width="2.2"/>
<use href="#s85" stroke-width="1.4"/>
<use href="#s86" stroke-width="0.2"/>
<use href="#s87" stroke-width="1.0"/>
<use href="#s88" stroke-width="0.9"/>
<use href="#s89" stroke-width="2.5"/>
<use href="#s90" stroke-width="0.2"/>
<use href="#s91" stroke-width="4.3"/>
<use href="#s92" stroke-width="4.3"/>
<use href="#s93" stroke-width="4.3"/>
<use href="#s94" stroke-width="1.2"/>
<use href="#s95" stroke-width="4.3"/>
<use href="#s96" stroke-width="2.5"/>
<use href="#s97" stroke-width="2.2"/>
<use href="#s98" stroke-width="0.0"/>
<use href="#s99" stroke-width="2.5"/>
<use href="#s100" stroke-width="2.5"/>
<use href="#s101" stroke-width="2.2"/>
<use href="#s104" stroke-width="1.3"/>
<use href="#s105" stroke-width="1.3"/>
<use href="#s106" stroke-width="0.9"/>
<use href="#s107" stroke-width="0.6"/>
<use href="#s108" stroke-width="2.5"/>
<use href="#s109" stroke-width="0.6"/>
<use href="#s110" stroke-width="0.9"/>
<use href="#s111" stroke-width="4.3"/>
<use href="#s112" stroke-width="4.3"/>
<use href="#s114" stroke-width="2.5"/>
<use href="#s115" stroke-width="2.5"/>
<use href="#s116" stroke-width="2.5"/>
<use href="#s117" stroke-width="4.3"/>
<use href="#s118" stroke-width="2.4"/>
<use href="#s120" stroke-width="2.8"/>
<use href="#s121" stroke-width="0.8"/>
<use href="#s122" stroke-width="0.8"/>
<use href="#s123" stroke-width="1.3"/>
<use href="#s124" stroke-width="0.2"/>
<use href="#s125" stroke-width="4.3"/>
<use href="#s126" stroke-width="4.3"/>
<use href="#s127" stroke-width="4.3"/>
<use href="#s128" stroke-width="4.3"/>
<use href="#s129" stroke-width="2.5"/>
<use href="#s130" stroke-width="3.2"/>
<use href="#s131" stroke-width="2.5"/>
<use href="#s132" stroke-width="3.0"/>
<use href="#s133" stroke-width="1.0"/>
<use href="#s134" stroke-width="1.3"/>
<path d="M602.8,137.4L605.7,138.2L616.4,136.5L618.8,133.3L608.5,133.3Z" stroke="none" fill-rule="evenodd"/>
<path d="M529.2,217.8L533.0,220.5L547.6,217.6L565.2,207.5L580.2,203.8L592.4,195.2L594.3,183.4L590.5,180.9L575.8,189.3L553.4,198.2L545.9,209.3Z" stroke="none" fill-rule="evenodd"/>
<path d="M555.7,203.4L565.4,206.6L583.5,201.5L593.0,190.7L588.3,184.4L575.0,192.4Z" stroke="none" fill-rule="evenodd"/>
<path d="M676.6,96.1L678.6,102.9L683.9,106.0L690.5,105.2L692.6,96.1Z" stroke="none" fill-rule="evenodd"/>
<path d="M695.6,101.9L696.3,107.9L700.5,109.3L706.1,107.9L704.8,101.1Z" stroke="none" fill-rule="evenodd"/>
<path d="M567.7,371.3L568.8,379.6L577.5,385.1L581.2,392.9L586.0,392.9L587.9,385.6L584.8,379.1L577.3,376.6L571.4,368.4Z" stroke="none" fill-rule="evenodd"/>
<path d="M507.3,547.9L509.5,559.3L517.4,560.9L529.1,556.0L517.2,550.1Z" stroke="none" fill-rule="evenodd"/>
<path d="M81.8,481.5L81.1,490.6L84.5,491.4L86.7,483.1L84.8,479.0Z" stroke="none" fill-rule="evenodd"/>
<path d="M95.1,500.2L95.6,508.4L100.3,511.3L108.0,507.0L108.8,503.5L101.3,498.3Z" stroke="none" fill-rule="evenodd"/>
<path d="M577.7,556.7L576.3,563.5L579.7,571.9L576.7,581.0L586.5,585.6L591.8,592.7L597.0,600.2L604.2,599.5L609.3,591.9L623.0,591.1L628.9,586.5L625.5,579.8L617.7,571.2L616.1,556.5L609.8,553.0L590.5,552.2Z" stroke="none" fill-rule="evenodd"/>
<path d="M541.6,518.7L546.5,515.6L557.0,517.3L564.3,521.2L570.9,528.8L578.4,530.2L583.9,527.2L590.2,531.7L592.6,530.1L584.7,524.0L579.7,517.8L573.2,516.1L563.0,509.3L558.2,505.0L547.0,506.6L541.6,510.4Z" stroke="none" fill-rule="evenodd"/>
<path d="M623.0,630.8L623.0,633.2L630.0,633.9L639.2,632.6L644.2,629.1L636.1,625.1L631.2,622.7Z" stroke="none" fill-rule="evenodd"/>
<path d="M593.7,600.6L594.1,601.9L597.7,604.3L605.4,603.0L605.9,600.6Z" stroke="none" fill-rule="evenodd"/>
<path d="M403.0,664.8L403.5,677.5L405.9,681.0L428.6,681.0L431.0,678.6L431.0,674.5L420.9,664.8L415.6,659.8L406.0,660.4Z" stroke="none" fill-rule="evenodd"/>
<path d="M123.2,694.2L128.8,699.5L132.7,696.7L128.6,691.4Z" stroke="none" fill-rule="evenodd"/>
<path d="M56.1,673.2L56.5,714.8L61.0,721.6L70.6,731.2L78.1,734.6L121.9,733.6L123.2,732.4L121.5,730.9L113.4,727.0L110.4,718.1L101.3,713.6L103.9,708.2L101.1,706.1L97.2,707.2L94.2,713.1L85.6,724.8L75.8,716.6L67.1,711.5L61.4,703.2L61.4,682.1L57.0,677.3Z" stroke="none" fill-rule="evenodd"/>
<path d="M66.4,721.0L67.8,726.2L75.2,730.7L82.9,730.3L79.1,725.5Z" stroke="none" fill-rule="evenodd"/>
<path d="M744.8,725.3L745.1,725.5L734.6,738.3L736.1,738.3L743.9,728.1L746.0,726.1Z" stroke="none" fill-rule="evenodd"/>
</g>
<g fill="#9dcee3" stroke="#9dcee3" stroke-linejoin="miter" stroke-miterlimit="2.5">
<use href="#s0" stroke-width="2.3"/>
<use href="#s1" stroke-width="3.1"/>
<use href="#s2" stroke-width="1.6"/>
<use href="#s3" stroke-width="0.1"/>
<use href="#s4" stroke-width="3.1"/>
<use href="#s6" stroke-width="3.1"/>
<use href="#s7" stroke-width="3.1"/>
<use href="#s8" stroke-width="1.8"/>
<use href="#s9" stroke-width="0.0"/>
<use href="#s10" stroke-width="0.4"/>
<use href="#s12" stroke-width="3.9"/>
<use href="#s15" stroke-width="0.0"/>
<use href="#s16" stroke-width="1.6"/>
<use href="#s17" stroke-width="0.7"/>
<use href="#s18" stroke-width="0.1"/>
<use href="#s19" stroke-width="0.5"/>
<use href="#s20" stroke-width="0.0"/>
<use href="#s21" stroke-width="0.6"/>
<use href="#s22" stroke-width="1.6"/>
<use href="#s24" stroke-width="2.8"/>
<use href="#s26" stroke-width="1.4"/>
<use href="#s27" stroke-width="1.4"/>
<use href="#s28" stroke-width="1.4"/>
<use href="#s29" stroke-width="0.4"/>
<use href="#s30" stroke-width="2.5"/>
<use href="#s31" stroke-width="0.2"/>
<use href="#s32" stroke-width="1.0"/>
<use href="#s33" stroke-width="1.4"/>
<use href="#s38" stroke-width="0.1"/>
<use href="#s41" stroke-width="1.5"/>
<use href="#s42" stroke-width="1.5"/>
<use href="#s43" stroke-width="3.1"/>
<use href="#s44" stroke-width="1.5"/>
<use href="#s45" stroke-width="3.1"/>
<use href="#s46" stroke-width="3.1"/>
<use href="#s47" stroke-width="3.1"/>
<use href="#s48" stroke-width="3.1"/>
<use href="#s49" stroke-width="2.4"/>
<use href="#s50" stroke-width="1.4"/>
<use href="#s51" stroke-width="1.4"/>
<use href="#s54" stroke-width="0.0"/>
<use href="#s57" stroke-width="3.1"/>
<use href="#s58" stroke-width="3.1"/>
<use href="#s59" stroke-width="3.1"/>
<use href="#s60" stroke-width="3.1"/>
<use href="#s63" stroke-width="2.3"/>
<use href="#s64" stroke-width="2.5"/>
<use href="#s65" stroke-width="0.7"/>
<use href="#s66" stroke-width="1.8"/>
<use href="#s67" stroke-width="1.8"/>
<use href="#s68" stroke-width="0.5"/>
<use href="#s69" stroke-width="3.1"/>
<use href="#s71" stroke-width="0.8"/>
<use href="#s72" stroke-width="0.8"/>
<use href="#s73" stroke-width="0.0"/>
<use href="#s74" stroke-width="1.2"/>
<use href="#s76" stroke-width="2.8"/>
<use href="#s77" stroke-width="3.1"/>
<use href="#s78" stroke-width="3.1"/>
<use href="#s79" stroke-width="1.3"/>
<use href="#s80" stroke-width="1.3"/>
<use href="#s81" stroke-width="1.3"/>
<use href="#s82" stroke-width="1.3"/>
<use href="#s83" stroke-width="1.3"/>
<use href="#s85" stroke-width="0.5"/>
<use href="#s87" stroke-width="0.7"/>
<use href="#s88" stroke-width="0.6"/>
<use href="#s89" stroke-width="1.8"/>
<use href="#s91" stroke-width="3.1"/>
<use href="#s92" stroke-width="3.1"/>
<use href="#s93" stroke-width="3.1"/>
<use href="#s94" stroke-width="0.4"/>
<use href="#s95" stroke-width="3.1"/>
<use href="#s96" stroke-width="1.7"/>
<use href="#s97" stroke-width="1.3"/>
<use href="#s99" stroke-width="1.5"/>
<use href="#s100" stroke-width="1.5"/>
<use href="#s101" stroke-width="1.3"/>
<use href="#s104" stroke-width="0.8"/>
<use href="#s105" stroke-width="0.8"/>
<use href="#s106" stroke-width="0.5"/>
<use href="#s107" stroke-width="0.4"/>
<use href="#s108" stroke-width="1.8"/>
<use href="#s109" stroke-width="0.2"/>
<use href="#s110" stroke-width="0.6"/>
<use href="#s111" stroke-width="3.1"/>
<use href="#s112" stroke-width="3.1"/>
<use href="#s114" stroke-width="1.5"/>
<use href="#s115" stroke-width="1.5"/>
<use href="#s116" stroke-width="1.5"/>
<use href="#s117" stroke-width="3.1"/>
<use href="#s118" stroke-width="1.4"/>
<use href="#s120" stroke-width="2.0"/>
<use href="#s121" stroke-width="0.6"/>
<use href="#s122" stroke-width="0.6"/>
<use href="#s123" stroke-width="0.9"/>
<use href="#s125" stroke-width="3.1"/>
<use href="#s126" stroke-width="3.1"/>
<use href="#s127" stroke-width="3.1"/>
<use href="#s128" stroke-width="3.1"/>
<use href="#s129" stroke-width="1.5"/>
<use href="#s130" stroke-width="2.3"/>
<use href="#s131" stroke-width="1.5"/>
<use href="#s132" stroke-width="2.0"/>
<use href="#s133" stroke-width="0.7"/>
<use href="#s134" stroke-width="0.9"/>
<path d="M559.4,203.0L565.5,205.1L582.7,200.1L591.1,190.6L587.9,186.4L575.8,193.7Z" stroke="none" fill-rule="evenodd"/>
<path d="M568.5,371.6L569.5,379.2L578.1,384.6L581.7,392.2L585.4,392.2L587.1,385.7L584.3,379.7L576.9,377.2L571.2,369.5Z" stroke="none" fill-rule="evenodd"/>
<path d="M578.5,557.4L577.3,563.4L580.7,571.9L577.8,580.5L587.1,584.8L592.5,592.1L597.5,599.2L603.7,598.6L608.8,591.0L622.7,590.2L627.7,586.3L624.7,580.3L616.8,571.6L615.2,557.0L609.5,553.9L590.7,553.1Z" stroke="none" fill-rule="evenodd"/>
<path d="M595.3,601.6L597.9,603.3L604.6,602.2L604.8,601.6Z" stroke="none" fill-rule="evenodd"/>
<path d="M124.7,694.4L128.8,698.4L131.4,696.5L128.3,692.5Z" stroke="none" fill-rule="evenodd"/>
</g>
<g fill="#679ec9" stroke="#679ec9" stroke-linejoin="miter" stroke-miterlimit="2.5">
<use href="#s0" stroke-width="1.4"/>
<use href="#s1" stroke-width="1.8"/>
<use href="#s2" stroke-width="0.5"/>
<use href="#s4" stroke-width="1.8"/>
<use href="#s6" stroke-width="1.8"/>
<use href="#s7" stroke-width="1.8"/>
<use href="#s8" stroke-width="1.1"/>
<use href="#s10" stroke-width="0.1"/>
<use href="#s12" stroke-width="2.3"/>
<use href="#s16" stroke-width="0.5"/>
<use href="#s17" stroke-width="0.3"/>
<use href="#s22" stroke-width="0.5"/>
<use href="#s24" stroke-width="1.7"/>
<use href="#s26" stroke-width="0.5"/>
<use href="#s27" stroke-width="0.5"/>
<use href="#s28" stroke-width="0.5"/>
<use href="#s30" stroke-width="1.5"/>
<use href="#s32" stroke-width="0.3"/>
<use href="#s33" stroke-width="0.7"/>
<use href="#s41" stroke-width="0.9"/>
<use href="#s42" stroke-width="0.9"/>
<use href="#s43" stroke-width="1.8"/>
<use href="#s44" stroke-width="0.9"/>
<use href="#s45" stroke-width="1.8"/>
<use href="#s46" stroke-width="1.8"/>
<use href="#s47" stroke-width="1.8"/>
<use href="#s48" stroke-width="1.8"/>
<use href="#s49" stroke-width="1.4"/>
<use href="#s50" stroke-width="0.5"/>
<use href="#s51" stroke-width="0.5"/>
<use href="#s57" stroke-width="1.8"/>
<use href="#s58" stroke-width="1.8"/>
<use href="#s59" stroke-width="1.8"/>
<use href="#s60" stroke-width="1.8"/>
<use href="#s63" stroke-width="1.4"/>
<use href="#s64" stroke-width="1.5"/>
<use href="#s65" stroke-width="0.2"/>
<use href="#s66" stroke-width="1.1"/>
<use href="#s67" stroke-width="1.1"/>
<use href="#s69" stroke-width="1.8"/>
<use href="#s71" stroke-width="0.4"/>
<use href="#s72" stroke-width="0.4"/>
<use href="#s74" stroke-width="0.4"/>
<use href="#s76" stroke-width="1.7"/>
<use href="#s77" stroke-width="1.8"/>
<use href="#s78" stroke-width="1.8"/>
<use href="#s79" stroke-width="0.4"/>
<use href="#s80" stroke-width="0.4"/>
<use href="#s81" stroke-width="0.4"/>
<use href="#s82" stroke-width="0.4"/>
<use href="#s83" stroke-width="0.4"/>
<use href="#s87" stroke-width="0.3"/>
<use href="#s88" stroke-width="0.2"/>
<use href="#s89" stroke-width="1.1"/>
<use href="#s91" stroke-width="1.8"/>
<use href="#s92" stroke-width="1.8"/>
<use href="#s93" stroke-width="1.8"/>
<use href="#s95" stroke-width="1.8"/>
<use href="#s96" stroke-width="0.8"/>
<use href="#s97" stroke-width="0.4"/>
<use href="#s99" stroke-width="0.5"/>
<use href="#s100" stroke-width="0.5"/>
<use href="#s101" stroke-width="0.4"/>
<use href="#s104" stroke-width="0.4"/>
<use href="#s105" stroke-width="0.4"/>
<use href="#s106" stroke-width="0.2"/>
<use href="#s107" stroke-width="0.1"/>
<use href="#s108" stroke-width="1.1"/>
<use href="#s110" stroke-width="0.2"/>
<use href="#s111" stroke-width="1.8"/>
<use href="#s112" stroke-width="1.8"/>
<use href="#s114" stroke-width="0.5"/>
<use href="#s115" stroke-width="0.5"/>
<use href="#s116" stroke-width="0.5"/>
<use href="#s117" stroke-width="1.8"/>
<use href="#s118" stroke-width="0.5"/>
<use href="#s120" stroke-width="1.2"/>
<use href="#s121" stroke-width="0.3"/>
<use href="#s122" stroke-width="0.3"/>
<use href="#s123" stroke-width="0.4"/>
<use href="#s125" stroke-width="1.8"/>
<use href="#s126" stroke-width="1.8"/>
<use href="#s127" stroke-width="1.8"/>
<use href="#s128" stroke-width="1.8"/>
<use href="#s129" stroke-width="0.5"/>
<use href="#s130" stroke-width="1.4"/>
<use href="#s131" stroke-width="0.5"/>
<use href="#s132" stroke-width="1.0"/>
<use href="#s133" stroke-width="0.3"/>
<use href="#s134" stroke-width="0.4"/>
</g>
<g fill="#4065ac" stroke="#4065ac" stroke-linejoin="miter" stroke-miterlimit="2.5">
<use href="#s0" stroke-width="0.5"/>
<use href="#s1" stroke-width="0.6"/>
<use href="#s4" stroke-width="0.6"/>
<use href="#s6" stroke-width="0.6"/>
<use href="#s7" stroke-width="0.6"/>
<use href="#s8" stroke-width="0.4"/>
<use href="#s12" stroke-width="0.8"/>
<use href="#s17" stroke-width="0.0"/>
<use href="#s24" stroke-width="0.6"/>
<use href="#s30" stroke-width="0.5"/>
<use href="#s33" stroke-width="0.0"/>
<use href="#s41" stroke-width="0.3"/>
<use href="#s42" stroke-width="0.3"/>
<use href="#s43" stroke-width="0.6"/>
<use href="#s44" stroke-width="0.3"/>
<use href="#s45" stroke-width="0.6"/>
<use href="#s46" stroke-width="0.6"/>
<use href="#s47" stroke-width="0.6"/>
<use href="#s48" stroke-width="0.6"/>
<use href="#s49" stroke-width="0.5"/>
<use href="#s57" stroke-width="0.6"/>
<use href="#s58" stroke-width="0.6"/>
<use href="#s59" stroke-width="0.6"/>
<use href="#s60" stroke-width="0.6"/>
<use href="#s63" stroke-width="0.5"/>
<use href="#s64" stroke-width="0.5"/>
<use href="#s66" stroke-width="0.4"/>
<use href="#s67" stroke-width="0.4"/>
<use href="#s69" stroke-width="0.6"/>
<use href="#s71" stroke-width="0.0"/>
<use href="#s72" stroke-width="0.0"/>
<use href="#s76" stroke-width="0.6"/>
<use href="#s77" stroke-width="0.6"/>
<use href="#s78" stroke-width="0.6"/>
<use href="#s87" stroke-width="0.0"/>
<use href="#s89" stroke-width="0.4"/>
<use href="#s91" stroke-width="0.6"/>
<use href="#s92" stroke-width="0.6"/>
<use href="#s93" stroke-width="0.6"/>
<use href="#s95" stroke-width="0.6"/>
<use href="#s96" stroke-width="0.0"/>
<use href="#s104" stroke-width="0.0"/>
<use href="#s105" stroke-width="0.0"/>
<use href="#s108" stroke-width="0.4"/>
<use href="#s111" stroke-width="0.6"/>
<use href="#s112" stroke-width="0.6"/>
<use href="#s117" stroke-width="0.6"/>
<use href="#s120" stroke-width="0.4"/>
<use href="#s121" stroke-width="0.0"/>
<use href="#s122" stroke-width="0.0"/>
<use href="#s123" stroke-width="0.0"/>
<use href="#s125" stroke-width="0.6"/>
<use href="#s126" stroke-width="0.6"/>
<use href="#s127" stroke-width="0.6"/>
<use href="#s128" stroke-width="0.6"/>
<use href="#s130" stroke-width="0.5"/>
<use href="#s132" stroke-width="0.0"/>
<use href="#s133" stroke-width="0.0"/>
<use href="#s134" stroke-width="0.0"/>
</g>
<g fill="#36459c" stroke="#36459c" stroke-linejoin="miter" stroke-miterlimit="2.5">
<use href="#s0" stroke-width="0.0"/>
<use href="#s1" stroke-width="0.0"/>
<use href="#s4" stroke-width="0.0"/>
<use href="#s6" stroke-width="0.0"/>
<use href="#s7" stroke-width="0.0"/>
<use href="#s8" stroke-width="0.0"/>
<use href="#s12" stroke-width="0.0"/>
<use href="#s24" stroke-width="0.0"/>
<use href="#s30" stroke-width="0.0"/>
<use href="#s41" stroke-width="0.0"/>
<use href="#s42" stroke-width="0.0"/>
<use href="#s43" stroke-width="0.0"/>
<use href="#s44" stroke-width="0.0"/>
<use href="#s45" stroke-width="0.0"/>
<use href="#s46" stroke-width="0.0"/>
<use href="#s47" stroke-width="0.0"/>
<use href="#s48" stroke-width="0.0"/>
<use href="#s49" stroke-width="0.0"/>
<use href="#s57" stroke-width="0.0"/>
<use href="#s58" stroke-width="0.0"/>
<use href="#s59" stroke-width="0.0"/>
<use href="#s60" stroke-width="0.0"/>
<use href="#s63" stroke-width="0.0"/>
<use href="#s64" stroke-width="0.0"/>
<use href="#s66" stroke-width="0.0"/>
<use href="#s67" stroke-width="0.0"/>
<use href="#s69" stroke-width="0.0"/>
<use href="#s76" stroke-width="0.0"/>
<use href="#s77" stroke-width="0.0"/>
<use href="#s78" stroke-width="0.0"/>
<use href="#s89" stroke-width="0.0"/>
<use href="#s91" stroke-width="0.0"/>
<use href="#s92" stroke-width="0.0"/>
<use href="#s93" stroke-width="0.0"/>
<use href="#s95" stroke-width="0.0"/>
<use href="#s108" stroke-width="0.0"/>
<use href="#s111" stroke-width="0.0"/>
<use href="#s112" stroke-width="0.0"/>
<use href="#s117" stroke-width="0.0"/>
<use href="#s120" stroke-width="0.0"/>
<use href="#s125" stroke-width="0.0"/>
<use href="#s126" stroke-width="0.0"/>
<use href="#s127" stroke-width="0.0"/>
<use href="#s128" stroke-width="0.0"/>
<use href="#s130" stroke-width="0.0"/>
</g>
<g fill="#4065ac" stroke="#4065ac" stroke-linejoin="miter" stroke-miterlimit="2.5">
<path d="M676.1,213.5L676.1,223.2L677.1,225.6L678.1,223.2L678.1,213.5L677.1,211.0Z" stroke-width="7.6"/>
<path d="M758.9,680.7L762.6,678.7L764.7,682.0L761.4,684.5Z" stroke-width="4.8"/>
<path d="M807.9,658.1L828.0,653.1L840.5,655.6L840.5,673.2L828.0,675.7L817.9,673.2L810.4,666.9Z" stroke-width="8.3"/>
<path d="M580.2,418.5L590.2,416.0L603.6,419.4L610.3,420.2L608.7,426.1L595.3,428.6L588.6,425.2L581.9,426.1Z" stroke-width="4.5"/>
<path d="M588.6,422.7L595.3,421.0L602.0,423.9L595.3,427.2Z" stroke-width="3.5"/>
<path d="M591.9,424.7L595.3,423.5L598.6,424.9L595.3,426.6Z" stroke-width="3.7"/>
<path d="M595.3,436.9L600.3,435.3L603.6,438.6L598.6,441.1Z" stroke-width="3.0"/>
<path d="M538.3,404.3L546.7,403.4L554.2,403.1L555.1,405.1L550.0,407.6L538.3,409.3Z" stroke-width="3.0"/>
<path d="M651.3,525.0L651.0,531.7L653.3,535.0L659.7,535.0L664.0,530.7L685.6,535.9L691.5,537.8L691.5,543.4L694.3,549.0L699.8,547.7L704.2,543.2L704.2,532.2L702.7,526.1L698.5,523.2L690.7,525.0L686.7,520.1L681.7,522.6L678.2,519.0L656.5,520.6Z" stroke-width="11.1"/>
<path d="M645.1,539.5L653.5,538.4L687.0,540.0L691.2,553.8L684.5,560.5L670.2,565.5L653.5,568.0L638.4,568.9L630.0,570.5L628.4,567.2L636.7,558.8L645.1,552.9Z" stroke-width="5.2"/>
<path d="M687.8,552.1L693.7,551.3L694.5,560.5L689.5,563.8Z" stroke-width="3.7"/>
<path d="M708.8,527.8L712.9,527.0L713.8,532.8L710.1,534.5Z" stroke-width="4.0"/>
<path d="M717.1,577.2L727.2,578.9L735.6,584.8L733.9,592.3L724.7,590.6L718.8,583.9Z" stroke-width="4.5"/>
<path d="M737.2,598.1L743.9,596.7L746.9,599.1L743.6,601.8L738.2,601.1Z" stroke-width="5.0"/>
<path d="M647.6,660.4L651.3,656.7L655.2,660.4L651.3,664.6Z" stroke-width="6.4"/>
<path d="M702.9,652.3L707.9,650.0L717.1,651.7L718.5,656.2L713.4,659.0L705.4,657.4Z" stroke-width="5.1"/>
<path d="M702.9,653.7L704.1,652.7L705.4,653.7L704.1,654.7Z" stroke-width="2.8"/>
<path d="M721.8,672.4L727.2,670.4L731.4,673.8L728.5,678.8L723.5,678.1Z" stroke-width="4.8"/>
<path d="M640.1,669.6L658.5,668.8L660.2,673.8L653.5,678.8L646.0,677.5Z" stroke-width="4.0"/>
<path d="M684.5,664.6L695.4,663.7L696.2,672.1L687.0,672.9Z" stroke-width="3.8"/>
<path d="M617.3,672.0L627.3,663.6L630.7,667.0L624.0,675.4L618.9,677.0Z" stroke-width="5.0"/>
<path d="M733.0,596.0L740.5,592.2L748.6,593.8L750.3,600.2L743.9,603.2L735.9,601.9Z" stroke-width="6.1"/>
<path d="M701.7,652.1L707.0,648.4L715.1,650.8L717.4,657.1L712.1,661.5L704.0,660.1Z" stroke-width="6.1"/>
<path d="M702.9,653.8L704.0,652.8L705.4,653.8L704.0,655.0Z" stroke-width="2.8"/>
<path d="M720.4,671.4L727.1,669.7L729.7,675.6L723.8,679.2Z" stroke-width="4.8"/>
<path d="M758.1,678.1L763.1,678.1L763.7,684.8L758.6,684.8Z" stroke-width="3.8"/>
<path d="M797.5,660.5L805.9,657.1L814.2,658.8L825.9,647.1L831.0,647.1L831.0,670.5L814.2,673.0L805.9,670.5L799.2,672.2L795.8,668.9Z" stroke-width="4.0"/>
<path d="M817.6,660.5L825.9,653.8L829.3,660.5L824.3,667.2L819.2,667.2Z" stroke-width="4.3"/>
<path d="M819.2,663.8L824.3,662.2L825.1,667.2L820.1,668.0Z" stroke-width="3.6"/>
<path d="M429.8,458.3L431.8,457.1L435.5,457.9L433.5,459.3Z" stroke-width="3.8"/>
<path d="M409.4,471.7L410.4,470.7L411.4,471.7L410.4,472.7Z" stroke-width="4.6"/>
<path d="M501.8,448.6L507.2,444.9L515.2,445.6L516.9,450.2L512.2,453.9L504.2,453.3Z" stroke-width="4.5"/>
<path d="M433.5,443.9L440.2,441.0L443.9,443.9L439.4,448.6L435.2,448.2Z" stroke-width="4.8"/>
<path d="M379.3,726.4L391.0,726.4L392.7,725.6L391.0,724.9L379.3,724.9L377.6,725.6Z" stroke-width="7.6"/>
<path d="M416.3,673.3L417.5,672.3L418.7,673.3L417.5,674.4Z" stroke-width="2.8"/>
<path d="M390.1,523.6L393.4,523.4L399.1,518.6L392.6,523.2Z" stroke-width="8.2"/>
<path d="M406.9,516.7L405.6,515.7L404.3,516.0L400.7,519.0Z" stroke-width="5.7"/>
<path d="M409.2,471.8L410.2,470.8L411.2,471.8L410.2,472.8Z" stroke-width="4.6"/>
<path d="M389.5,490.2L390.5,489.2L391.5,490.2L390.5,491.2Z" stroke-width="3.6"/>
<path d="M413.1,510.3L415.6,509.5L417.3,510.7L414.8,511.7Z" stroke-width="3.8"/>
</g>
<g fill="#679ec9" stroke="#679ec9" stroke-linejoin="miter" stroke-miterlimit="2.5">
<path d="M676.1,213.5L676.1,223.2L677.1,225.6L678.1,223.2L678.1,213.5L677.1,211.0Z" stroke-width="6.7"/>
<path d="M758.9,680.7L762.6,678.7L764.7,682.0L761.4,684.5Z" stroke-width="2.4"/>
<path d="M807.9,658.1L828.0,653.1L840.5,655.6L840.5,673.2L828.0,675.7L817.9,673.2L810.4,666.9Z" stroke-width="5.0"/>
<path d="M580.2,418.5L590.2,416.0L603.6,419.4L610.3,420.2L608.7,426.1L595.3,428.6L588.6,425.2L581.9,426.1Z" stroke-width="1.5"/>
<path d="M588.6,422.7L595.3,421.0L602.0,423.9L595.3,427.2Z" stroke-width="2.5"/>
<path d="M591.9,424.7L595.3,423.5L598.6,424.9L595.3,426.6Z" stroke-width="3.1"/>
<path d="M595.3,436.9L600.3,435.3L603.6,438.6L598.6,441.1Z" stroke-width="1.0"/>
<path d="M651.3,525.0L651.0,531.7L653.3,535.0L659.7,535.0L664.0,530.7L685.6,535.9L691.5,537.8L691.5,543.4L694.3,549.0L699.8,547.7L704.2,543.2L704.2,532.2L702.7,526.1L698.5,523.2L690.7,525.0L686.7,520.1L681.7,522.6L678.2,519.0L656.5,520.6Z" stroke-width="9.8"/>
<path d="M645.1,539.5L653.5,538.4L687.0,540.0L691.2,553.8L684.5,560.5L670.2,565.5L653.5,568.0L638.4,568.9L630.0,570.5L628.4,567.2L636.7,558.8L645.1,552.9Z" stroke-width="1.8"/>
<path d="M687.8,552.1L693.7,551.3L694.5,560.5L689.5,563.8Z" stroke-width="3.0"/>
<path d="M708.8,527.8L712.9,527.0L713.8,532.8L710.1,534.5Z" stroke-width="0.0"/>
<path d="M717.1,577.2L727.2,578.9L735.6,584.8L733.9,592.3L724.7,590.6L718.8,583.9Z" stroke-width="1.5"/>
<path d="M737.2,598.1L743.9,596.7L746.9,599.1L743.6,601.8L738.2,601.1Z" stroke-width="3.0"/>
<path d="M647.6,660.4L651.3,656.7L655.2,660.4L651.3,664.6Z" stroke-width="3.2"/>
<path d="M702.9,652.3L707.9,650.0L717.1,651.7L718.5,656.2L713.4,659.0L705.4,657.4Z" stroke-width="3.4"/>
<path d="M702.9,653.7L704.1,652.7L705.4,653.7L704.1,654.7Z" stroke-width="2.4"/>
<path d="M721.8,672.4L727.2,670.4L731.4,673.8L728.5,678.8L723.5,678.1Z" stroke-width="2.4"/>
<path d="M640.1,669.6L658.5,668.8L660.2,673.8L653.5,678.8L646.0,677.5Z" stroke-width="0.0"/>
<path d="M684.5,664.6L695.4,663.7L696.2,672.1L687.0,672.9Z" stroke-width="1.2"/>
<path d="M617.3,672.0L627.3,663.6L630.7,667.0L624.0,675.4L618.9,677.0Z" stroke-width="3.0"/>
<path d="M733.0,596.0L740.5,592.2L748.6,593.8L750.3,600.2L743.9,603.2L735.9,601.9Z" stroke-width="4.4"/>
<path d="M701.7,652.1L707.0,648.4L715.1,650.8L717.4,657.1L712.1,661.5L704.0,660.1Z" stroke-width="4.4"/>
<path d="M702.9,653.8L704.0,652.8L705.4,653.8L704.0,655.0Z" stroke-width="2.4"/>
<path d="M720.4,671.4L727.1,669.7L729.7,675.6L723.8,679.2Z" stroke-width="2.4"/>
<path d="M758.1,678.1L763.1,678.1L763.7,684.8L758.6,684.8Z" stroke-width="1.2"/>
<path d="M797.5,660.5L805.9,657.1L814.2,658.8L825.9,647.1L831.0,647.1L831.0,670.5L814.2,673.0L805.9,670.5L799.2,672.2L795.8,668.9Z" stroke-width="0.0"/>
<path d="M817.6,660.5L825.9,653.8L829.3,660.5L824.3,667.2L819.2,667.2Z" stroke-width="2.9"/>
<path d="M819.2,663.8L824.3,662.2L825.1,667.2L820.1,668.0Z" stroke-width="2.9"/>
<path d="M429.8,458.3L431.8,457.1L435.5,457.9L433.5,459.3Z" stroke-width="3.2"/>
<path d="M409.4,471.7L410.4,470.7L411.4,471.7L410.4,472.7Z" stroke-width="3.9"/>
<path d="M501.8,448.6L507.2,444.9L515.2,445.6L516.9,450.2L512.2,453.9L504.2,453.3Z" stroke-width="1.5"/>
<path d="M433.5,443.9L440.2,441.0L443.9,443.9L439.4,448.6L435.2,448.2Z" stroke-width="2.4"/>
<path d="M379.3,726.4L391.0,726.4L392.7,725.6L391.0,724.9L379.3,724.9L377.6,725.6Z" stroke-width="6.7"/>
<path d="M416.3,673.3L417.5,672.3L418.7,673.3L417.5,674.4Z" stroke-width="2.4"/>
<path d="M390.1,523.6L393.4,523.4L399.1,518.6L392.6,523.2Z" stroke-width="7.3"/>
<path d="M406.9,516.7L405.6,515.7L404.3,516.0L400.7,519.0Z" stroke-width="5.1"/>
<path d="M409.2,471.8L410.2,470.8L411.2,471.8L410.2,472.8Z" stroke-width="3.9"/>
<path d="M389.5,490.2L390.5,489.2L391.5,490.2L390.5,491.2Z" stroke-width="2.9"/>
<path d="M413.1,510.3L415.6,509.5L417.3,510.7L414.8,511.7Z" stroke-width="3.2"/>
</g>
<g fill="#9dcee3" stroke="#9dcee3" stroke-linejoin="miter" stroke-miterlimit="2.5">
<path d="M676.1,213.5L676.1,223.2L677.1,225.6L678.1,223.2L678.1,213.5L677.1,211.0Z" stroke-width="5.9"/>
<path d="M758.9,680.7L762.6,678.7L764.7,682.0L761.4,684.5Z" stroke-width="0.0"/>
<path d="M807.9,658.1L828.0,653.1L840.5,655.6L840.5,673.2L828.0,675.7L817.9,673.2L810.4,666.9Z" stroke-width="1.7"/>
<path d="M588.6,422.7L595.3,421.0L602.0,423.9L595.3,427.2Z" stroke-width="1.5"/>
<path d="M591.9,424.7L595.3,423.5L598.6,424.9L595.3,426.6Z" stroke-width="2.6"/>
<path d="M651.3,525.0L651.0,531.7L653.3,535.0L659.7,535.0L664.0,530.7L685.6,535.9L691.5,537.8L691.5,543.4L694.3,549.0L699.8,547.7L704.2,543.2L704.2,532.2L702.7,526.1L698.5,523.2L690.7,525.0L686.7,520.1L681.7,522.6L678.2,519.0L656.5,520.6Z" stroke-width="8.6"/>
<path d="M687.8,552.1L693.7,551.3L694.5,560.5L689.5,563.8Z" stroke-width="2.3"/>
<path d="M737.2,598.1L743.9,596.7L746.9,599.1L743.6,601.8L738.2,601.1Z" stroke-width="1.0"/>
<path d="M647.6,660.4L651.3,656.7L655.2,660.4L651.3,664.6Z" stroke-width="0.0"/>
<path d="M702.9,652.3L707.9,650.0L717.1,651.7L718.5,656.2L713.4,659.0L705.4,657.4Z" stroke-width="1.7"/>
<path d="M702.9,653.7L704.1,652.7L705.4,653.7L704.1,654.7Z" stroke-width="2.0"/>
<path d="M721.8,672.4L727.2,670.4L731.4,673.8L728.5,678.8L723.5,678.1Z" stroke-width="0.0"/>
<path d="M617.3,672.0L627.3,663.6L630.7,667.0L624.0,675.4L618.9,677.0Z" stroke-width="1.0"/>
<path d="M733.0,596.0L740.5,592.2L748.6,593.8L750.3,600.2L743.9,603.2L735.9,601.9Z" stroke-width="2.6"/>
<path d="M701.7,652.1L707.0,648.4L715.1,650.8L717.4,657.1L712.1,661.5L704.0,660.1Z" stroke-width="2.6"/>
<path d="M702.9,653.8L704.0,652.8L705.4,653.8L704.0,655.0Z" stroke-width="2.0"/>
<path d="M720.4,671.4L727.1,669.7L729.7,675.6L723.8,679.2Z" stroke-width="0.0"/>
<path d="M817.6,660.5L825.9,653.8L829.3,660.5L824.3,667.2L819.2,667.2Z" stroke-width="1.4"/>
<path d="M819.2,663.8L824.3,662.2L825.1,667.2L820.1,668.0Z" stroke-width="2.2"/>
<path d="M429.8,458.3L431.8,457.1L435.5,457.9L433.5,459.3Z" stroke-width="2.8"/>
<path d="M409.4,471.7L410.4,470.7L411.4,471.7L410.4,472.7Z" stroke-width="3.2"/>
<path d="M433.5,443.9L440.2,441.0L443.9,443.9L439.4,448.6L435.2,448.2Z" stroke-width="0.0"/>
<path d="M379.3,726.4L391.0,726.4L392.7,725.6L391.0,724.9L379.3,724.9L377.6,725.6Z" stroke-width="5.9"/>
<path d="M416.3,673.3L417.5,672.3L418.7,673.3L417.5,674.4Z" stroke-width="2.1"/>
<path d="M390.1,523.6L393.4,523.4L399.1,518.6L392.6,523.2Z" stroke-width="6.4"/>
<path d="M406.9,516.7L405.6,515.7L404.3,516.0L400.7,519.0Z" stroke-width="4.4"/>
<path d="M409.2,471.8L410.2,470.8L411.2,471.8L410.2,472.8Z" stroke-width="3.2"/>
<path d="M389.5,490.2L390.5,489.2L391.5,490.2L390.5,491.2Z" stroke-width="2.2"/>
<path d="M413.1,510.3L415.6,509.5L417.3,510.7L414.8,511.7Z" stroke-width="2.8"/>
</g>
<g fill="#d1ecf4" stroke="#d1ecf4" stroke-linejoin="miter" stroke-miterlimit="2.5">
<path d="M676.1,213.5L676.1,223.2L677.1,225.6L678.1,223.2L678.1,213.5L677.1,211.0Z" stroke-width="5.1"/>
<path d="M588.6,422.7L595.3,421.0L602.0,423.9L595.3,427.2Z" stroke-width="0.5"/>
<path d="M591.9,424.7L595.3,423.5L598.6,424.9L595.3,426.6Z" stroke-width="2.0"/>
<path d="M651.3,525.0L651.0,531.7L653.3,535.0L659.7,535.0L664.0,530.7L685.6,535.9L691.5,537.8L691.5,543.4L694.3,549.0L699.8,547.7L704.2,543.2L704.2,532.2L702.7,526.1L698.5,523.2L690.7,525.0L686.7,520.1L681.7,522.6L678.2,519.0L656.5,520.6Z" stroke-width="7.4"/>
<path d="M687.8,552.1L693.7,551.3L694.5,560.5L689.5,563.8Z" stroke-width="1.7"/>
<path d="M702.9,652.3L707.9,650.0L717.1,651.7L718.5,656.2L713.4,659.0L705.4,657.4Z" stroke-width="0.0"/>
<path d="M702.9,653.7L704.1,652.7L705.4,653.7L704.1,654.7Z" stroke-width="1.6"/>
<path d="M733.0,596.0L740.5,592.2L748.6,593.8L750.3,600.2L743.9,603.2L735.9,601.9Z" stroke-width="0.9"/>
<path d="M701.7,652.1L707.0,648.4L715.1,650.8L717.4,657.1L712.1,661.5L704.0,660.1Z" stroke-width="0.9"/>
<path d="M702.9,653.8L704.0,652.8L705.4,653.8L704.0,655.0Z" stroke-width="1.6"/>
<path d="M817.6,660.5L825.9,653.8L829.3,660.5L824.3,667.2L819.2,667.2Z" stroke-width="0.0"/>
<path d="M819.2,663.8L824.3,662.2L825.1,667.2L820.1,668.0Z" stroke-width="1.5"/>
<path d="M429.8,458.3L431.8,457.1L435.5,457.9L433.5,459.3Z" stroke-width="2.2"/>
<path d="M409.4,471.7L410.4,470.7L411.4,471.7L410.4,472.7Z" stroke-width="2.5"/>
<path d="M379.3,726.4L391.0,726.4L392.7,725.6L391.0,724.9L379.3,724.9L377.6,725.6Z" stroke-width="5.1"/>
<path d="M416.3,673.3L417.5,672.3L418.7,673.3L417.5,674.4Z" stroke-width="1.7"/>
<path d="M390.1,523.6L393.4,523.4L399.1,518.6L392.6,523.2Z" stroke-width="5.5"/>
<path d="M406.9,516.7L405.6,515.7L404.3,516.0L400.7,519.0Z" stroke-width="3.8"/>
<path d="M409.2,471.8L410.2,470.8L411.2,471.8L410.2,472.8Z" stroke-width="2.5"/>
<path d="M389.5,490.2L390.5,489.2L391.5,490.2L390.5,491.2Z" stroke-width="1.5"/>
<path d="M413.1,510.3L415.6,509.5L417.3,510.7L414.8,511.7Z" stroke-width="2.2"/>
</g>
<g fill="#f7fcce" stroke="#f7fcce" stroke-linejoin="miter" stroke-miterlimit="2.5">
<path d="M676.1,213.5L676.1,223.2L677.1,225.6L678.1,223.2L678.1,213.5L677.1,211.0Z" stroke-width="4.2"/>
<path d="M591.9,424.7L595.3,423.5L598.6,424.9L595.3,426.6Z" stroke-width="1.4"/>
<path d="M651.3,525.0L651.0,531.7L653.3,535.0L659.7,535.0L664.0,530.7L685.6,535.9L691.5,537.8L691.5,543.4L694.3,549.0L699.8,547.7L704.2,543.2L704.2,532.2L702.7,526.1L698.5,523.2L690.7,525.0L686.7,520.1L681.7,522.6L678.2,519.0L656.5,520.6Z" stroke-width="6.1"/>
<path d="M687.8,552.1L693.7,551.3L694.5,560.5L689.5,563.8Z" stroke-width="1.0"/>
<path d="M702.9,653.7L704.1,652.7L705.4,653.7L704.1,654.7Z" stroke-width="1.2"/>
<path d="M702.9,653.8L704.0,652.8L705.4,653.8L704.0,655.0Z" stroke-width="1.2"/>
<path d="M819.2,663.8L824.3,662.2L825.1,667.2L820.1,668.0Z" stroke-width="0.7"/>
<path d="M429.8,458.3L431.8,457.1L435.5,457.9L433.5,459.3Z" stroke-width="1.8"/>
<path d="M409.4,471.7L410.4,470.7L411.4,471.7L410.4,472.7Z" stroke-width="1.8"/>
<path d="M379.3,726.4L391.0,726.4L392.7,725.6L391.0,724.9L379.3,724.9L377.6,725.6Z" stroke-width="4.2"/>
<path d="M416.3,673.3L417.5,672.3L418.7,673.3L417.5,674.4Z" stroke-width="1.3"/>
<path d="M390.1,523.6L393.4,523.4L399.1,518.6L392.6,523.2Z" stroke-width="4.6"/>
<path d="M406.9,516.7L405.6,515.7L404.3,516.0L400.7,519.0Z" stroke-width="3.2"/>
<path d="M409.2,471.8L410.2,470.8L411.2,471.8L410.2,472.8Z" stroke-width="1.8"/>
<path d="M389.5,490.2L390.5,489.2L391.5,490.2L390.5,491.2Z" stroke-width="0.7"/>
<path d="M413.1,510.3L415.6,509.5L417.3,510.7L414.8,511.7Z" stroke-width="1.8"/>
</g>
<g fill="#fee79b" stroke="#fee79b" stroke-linejoin="miter" stroke-miterlimit="2.5">
<path d="M676.1,213.5L676.1,223.2L677.1,225.6L678.1,223.2L678.1,213.5L677.1,211.0Z" stroke-width="3.4"/>
<path d="M591.9,424.7L595.3,423.5L598.6,424.9L595.3,426.6Z" stroke-width="0.9"/>
<path d="M651.3,525.0L651.0,531.7L653.3,535.0L659.7,535.0L664.0,530.7L685.6,535.9L691.5,537.8L691.5,543.4L694.3,549.0L699.8,547.7L704.2,543.2L704.2,532.2L702.7,526.1L698.5,523.2L690.7,525.0L686.7,520.1L681.7,522.6L678.2,519.0L656.5,520.6Z" stroke-width="4.9"/>
<path d="M687.8,552.1L693.7,551.3L694.5,560.5L689.5,563.8Z" stroke-width="0.3"/>
<path d="M702.9,653.7L704.1,652.7L705.4,653.7L704.1,654.7Z" stroke-width="0.8"/>
<path d="M702.9,653.8L704.0,652.8L705.4,653.8L704.0,655.0Z" stroke-width="0.8"/>
<path d="M819.2,663.8L824.3,662.2L825.1,667.2L820.1,668.0Z" stroke-width="0.0"/>
<path d="M429.8,458.3L431.8,457.1L435.5,457.9L433.5,459.3Z" stroke-width="1.2"/>
<path d="M409.4,471.7L410.4,470.7L411.4,471.7L410.4,472.7Z" stroke-width="1.1"/>
<path d="M379.3,726.4L391.0,726.4L392.7,725.6L391.0,724.9L379.3,724.9L377.6,725.6Z" stroke-width="3.4"/>
<path d="M416.3,673.3L417.5,672.3L418.7,673.3L417.5,674.4Z" stroke-width="0.9"/>
<path d="M390.1,523.6L393.4,523.4L399.1,518.6L392.6,523.2Z" stroke-width="3.6"/>
<path d="M406.9,516.7L405.6,515.7L404.3,516.0L400.7,519.0Z" stroke-width="2.5"/>
<path d="M409.2,471.8L410.2,470.8L411.2,471.8L410.2,472.8Z" stroke-width="1.1"/>
<path d="M389.5,490.2L390.5,489.2L391.5,490.2L390.5,491.2Z" stroke-width="0.0"/>
<path d="M413.1,510.3L415.6,509.5L417.3,510.7L414.8,511.7Z" stroke-width="1.2"/>
</g>
<g fill="#fdbb6d" stroke="#fdbb6d" stroke-linejoin="miter" stroke-miterlimit="2.5">
<path d="M676.1,213.5L676.1,223.2L677.1,225.6L678.1,223.2L678.1,213.5L677.1,211.0Z" stroke-width="2.5"/>
<path d="M591.9,424.7L595.3,423.5L598.6,424.9L595.3,426.6Z" stroke-width="0.3"/>
<path d="M651.3,525.0L651.0,531.7L653.3,535.0L659.7,535.0L664.0,530.7L685.6,535.9L691.5,537.8L691.5,543.4L694.3,549.0L699.8,547.7L704.2,543.2L704.2,532.2L702.7,526.1L698.5,523.2L690.7,525.0L686.7,520.1L681.7,522.6L678.2,519.0L656.5,520.6Z" stroke-width="3.7"/>
<path d="M558.4,567.0L563.4,564.5L567.6,568.7L566.8,575.4L561.8,577.9L557.6,573.7Z" stroke-width="3.0"/>
<path d="M577.7,562.0L581.9,560.3L582.7,567.0L579.4,568.7Z" stroke-width="2.0"/>
<path d="M702.9,653.7L704.1,652.7L705.4,653.7L704.1,654.7Z" stroke-width="0.4"/>
<path d="M702.9,653.8L704.0,652.8L705.4,653.8L704.0,655.0Z" stroke-width="0.4"/>
<path d="M429.8,458.3L431.8,457.1L435.5,457.9L433.5,459.3Z" stroke-width="0.8"/>
<path d="M409.4,471.7L410.4,470.7L411.4,471.7L410.4,472.7Z" stroke-width="0.4"/>
<path d="M379.3,726.4L391.0,726.4L392.7,725.6L391.0,724.9L379.3,724.9L377.6,725.6Z" stroke-width="2.5"/>
<path d="M416.3,673.3L417.5,672.3L418.7,673.3L417.5,674.4Z" stroke-width="0.6"/>
<path d="M390.1,523.6L393.4,523.4L399.1,518.6L392.6,523.2Z" stroke-width="2.7"/>
<path d="M406.9,516.7L405.6,515.7L404.3,516.0L400.7,519.0Z" stroke-width="1.9"/>
<path d="M409.2,471.8L410.2,470.8L411.2,471.8L410.2,472.8Z" stroke-width="0.4"/>
<path d="M413.1,510.3L415.6,509.5L417.3,510.7L414.8,511.7Z" stroke-width="0.8"/>
</g>
<g fill="#f67c4a" stroke="#f67c4a" stroke-linejoin="miter" stroke-miterlimit="2.5">
<path d="M676.1,213.5L676.1,223.2L677.1,225.6L678.1,223.2L678.1,213.5L677.1,211.0Z" stroke-width="1.7"/>
<path d="M651.3,525.0L651.0,531.7L653.3,535.0L659.7,535.0L664.0,530.7L685.6,535.9L691.5,537.8L691.5,543.4L694.3,549.0L699.8,547.7L704.2,543.2L704.2,532.2L702.7,526.1L698.5,523.2L690.7,525.0L686.7,520.1L681.7,522.6L678.2,519.0L656.5,520.6Z" stroke-width="2.5"/>
<path d="M558.4,567.0L563.4,564.5L567.6,568.7L566.8,575.4L561.8,577.9L557.6,573.7Z" stroke-width="1.0"/>
<path d="M577.7,562.0L581.9,560.3L582.7,567.0L579.4,568.7Z" stroke-width="0.0"/>
<path d="M702.9,653.7L704.1,652.7L705.4,653.7L704.1,654.7Z" stroke-width="0.0"/>
<path d="M702.9,653.8L704.0,652.8L705.4,653.8L704.0,655.0Z" stroke-width="0.0"/>
<path d="M429.8,458.3L431.8,457.1L435.5,457.9L433.5,459.3Z" stroke-width="0.2"/>
<path d="M379.3,726.4L391.0,726.4L392.7,725.6L391.0,724.9L379.3,724.9L377.6,725.6Z" stroke-width="1.7"/>
<path d="M416.3,673.3L417.5,672.3L418.7,673.3L417.5,674.4Z" stroke-width="0.2"/>
<path d="M390.1,523.6L393.4,523.4L399.1,518.6L392.6,523.2Z" stroke-width="1.8"/>
<path d="M406.9,516.7L405.6,515.7L404.3,516.0L400.7,519.0Z" stroke-width="1.3"/>
<path d="M413.1,510.3L415.6,509.5L417.3,510.7L414.8,511.7Z" stroke-width="0.2"/>
</g>
<g fill="#de402e" stroke="#de402e" stroke-linejoin="miter" stroke-miterlimit="2.5">
<path d="M676.1,213.5L676.1,223.2L677.1,225.6L678.1,223.2L678.1,213.5L677.1,211.0Z" stroke-width="0.8"/>
<path d="M651.3,525.0L651.0,531.7L653.3,535.0L659.7,535.0L664.0,530.7L685.6,535.9L691.5,537.8L691.5,543.4L694.3,549.0L699.8,547.7L704.2,543.2L704.2,532.2L702.7,526.1L698.5,523.2L690.7,525.0L686.7,520.1L681.7,522.6L678.2,519.0L656.5,520.6Z" stroke-width="1.2"/>
<path d="M379.3,726.4L391.0,726.4L392.7,725.6L391.0,724.9L379.3,724.9L377.6,725.6Z" stroke-width="0.8"/>
<path d="M390.1,523.6L393.4,523.4L399.1,518.6L392.6,523.2Z" stroke-width="0.9"/>
<path d="M406.9,516.7L405.6,515.7L404.3,516.0L400.7,519.0Z" stroke-width="0.6"/>
</g>
<g fill="#b10b26" stroke="#b10b26" stroke-linejoin="miter" stroke-miterlimit="2.5">
<path d="M676.1,213.5L676.1,223.2L677.1,225.6L678.1,223.2L678.1,213.5L677.1,211.0Z" stroke-width="0.0"/>
<path d="M651.3,525.0L651.0,531.7L653.3,535.0L659.7,535.0L664.0,530.7L685.6,535.9L691.5,537.8L691.5,543.4L694.3,549.0L699.8,547.7L704.2,543.2L704.2,532.2L702.7,526.1L698.5,523.2L690.7,525.0L686.7,520.1L681.7,522.6L678.2,519.0L656.5,520.6Z" stroke-width="0.0"/>
<path d="M379.3,726.4L391.0,726.4L392.7,725.6L391.0,724.9L379.3,724.9L377.6,725.6Z" stroke-width="0.0"/>
<path d="M390.1,523.6L393.4,523.4L399.1,518.6L392.6,523.2Z" stroke-width="0.0"/>
<path d="M406.9,516.7L405.6,515.7L404.3,516.0L400.7,519.0Z" stroke-width="0.0"/>
</g>
<g fill="#de402e" stroke="#de402e" stroke-linejoin="miter" stroke-miterlimit="2.5">
<path d="M682.6,523.3L683.6,522.3L684.6,523.3L683.6,524.3Z" stroke-width="5.2"/>
<path d="M689.8,527.8L690.8,527.8L690.8,537.9L689.8,537.9Z" stroke-width="5.1"/>
</g>
<g fill="#f67c4a" stroke="#f67c4a" stroke-linejoin="miter" stroke-miterlimit="2.5">
<path d="M682.6,523.3L683.6,522.3L684.6,523.3L683.6,524.3Z" stroke-width="4.4"/>
<path d="M689.8,527.8L690.8,527.8L690.8,537.9L689.8,537.9Z" stroke-width="4.2"/>
</g>
<g fill="#fdbb6d" stroke="#fdbb6d" stroke-linejoin="miter" stroke-miterlimit="2.5">
<path d="M682.6,523.3L683.6,522.3L684.6,523.3L683.6,524.3Z" stroke-width="3.6"/>
<path d="M689.8,527.8L690.8,527.8L690.8,537.9L689.8,537.9Z" stroke-width="3.2"/>
</g>
<g fill="#fee79b" stroke="#fee79b" stroke-linejoin="miter" stroke-miterlimit="2.5">
<path d="M682.6,523.3L683.6,522.3L684.6,523.3L683.6,524.3Z" stroke-width="2.8"/>
<path d="M689.8,527.8L690.8,527.8L690.8,537.9L689.8,537.9Z" stroke-width="2.3"/>
</g>
<g fill="#f7fcce" stroke="#f7fcce" stroke-linejoin="miter" stroke-miterlimit="2.5">
<path d="M682.6,523.3L683.6,522.3L684.6,523.3L683.6,524.3Z" stroke-width="2.0"/>
<path d="M689.8,527.8L690.8,527.8L690.8,537.9L689.8,537.9Z" stroke-width="1.4"/>
</g>
<g fill="#d1ecf4" stroke="#d1ecf4" stroke-linejoin="miter" stroke-miterlimit="2.5">
<path d="M682.6,523.3L683.6,522.3L684.6,523.3L683.6,524.3Z" stroke-width="1.2"/>
<path d="M689.8,527.8L690.8,527.8L690.8,537.9L689.8,537.9Z" stroke-width="0.5"/>
</g>
<g fill="#9dcee3" stroke="#9dcee3" stroke-linejoin="miter" stroke-miterlimit="2.5">
<path d="M682.6,523.3L683.6,522.3L684.6,523.3L683.6,524.3Z" stroke-width="0.4"/>
</g>
<g fill="#679ec9" stroke="#679ec9" stroke-linejoin="miter" stroke-miterlimit="2.5">
<path d="M657.7,547.1L663.5,542.9L684.5,542.9L685.3,553.8L678.6,562.2L663.5,563.0L657.7,557.1Z" stroke-width="5.2"/>
</g>
<g fill="#4065ac" stroke="#4065ac" stroke-linejoin="miter" stroke-miterlimit="2.5">
<path d="M657.7,547.1L663.5,542.9L684.5,542.9L685.3,553.8L678.6,562.2L663.5,563.0L657.7,557.1Z" stroke-width="1.8"/>
</g>
<g fill="#36459c" stroke="#36459c" stroke-linejoin="miter" stroke-miterlimit="2.5">
<path d="M657.7,547.1L663.5,542.9L684.5,542.9L685.3,553.8L678.6,562.2L663.5,563.0L657.7,557.1Z" stroke-width="0.0"/>
</g>
</g>
<path d="M723.9,95.2L723.9,110.2L700.5,132.0L697.1,133.7L691.3,139.5L678.7,140.0L673.7,143.7L670.3,147.1L664.5,147.1L639.4,172.2L639.4,178.1L644.4,184.8L677.0,184.8L683.7,178.1L703.8,178.1L709.7,172.2L715.6,172.2L723.0,165.1L736.4,164.8L741.4,159.3L760.6,159.3L762.3,151.7L774.9,151.7L780.7,145.9L788.3,145.9L795.0,139.2L801.7,145.0L807.2,139.2L807.2,132.5L814.2,125.8L814.2,118.2L820.1,113.2L820.1,105.7L814.2,99.8L820.1,94.0L820.1,88.1L815.1,82.2L808.0,82.2L808.0,74.7L723.8,74.7Z" fill="#fff"/>
<path d="M641.0,75.9L646.1,69.7L658.6,69.7L663.6,75.9Z" fill="#fff"/>
<path d="M620.1,100.2L625.1,95.2L637.2,106.1L631.8,111.6Z" fill="#fff"/>
<path d="M840.5,195.6L826.7,200.7L820.4,204.4L814.1,204.4L777.7,237.1L770.2,243.4L762.6,243.4L736.3,270.0L732.5,276.0L840.5,276.0Z" fill="#fff"/>
<path d="M738.8,267.5L730.0,276.3L730.0,283.8L716.9,296.4L716.9,302.7L697.8,321.5L697.8,334.1L691.1,340.8L691.1,361.7L657.1,361.7L650.9,368.0L644.6,368.0L632.5,380.0L639.1,386.8L627.0,387.6L624.5,387.6L624.5,465.9L840.5,465.9L840.5,267.5Z" fill="#fff"/>
<path d="M535.1,463.9L547.6,452.6L553.1,457.6L541.3,469.6Z" fill="#fff"/>
<path d="M443.4,550.5L449.2,556.3L443.4,562.1L437.6,556.3Z" fill="#fff"/>
<path d="M757.6,581.9L767.7,571.1L773.9,576.9L763.9,587.7Z" fill="#fff"/>
<path d="M288.2,634.2L292.8,629.2L300.3,629.2L304.8,634.2L299.0,640.5L294.0,640.5Z" fill="#fff"/>
<path d="M443.0,550.3L448.5,555.9L443.0,561.4L437.4,555.9Z" fill="#fff"/>
<path d="M477.7,699.6L484.0,693.8L491.5,695.8L495.3,702.1L489.0,711.4L483.3,707.1Z" fill="#fff"/>
<path d="M780.7,638.0L780.7,655.6L787.8,665.6L800.3,653.1L800.3,646.8L812.9,653.6L828.0,640.5L840.5,638.0Z" fill="#fff"/>
<path d="M642.1,743.5L667.2,713.4L714.9,713.4L722.5,719.7L737.5,720.9L742.6,725.9L730.0,743.5Z" fill="#fff"/>
<path d="M800.8,694.0L806.4,699.6L800.8,705.1L795.3,699.6Z" fill="#fff"/>
<path d="M633.8,378.3L638.8,387.5L617.9,387.5L613.7,393.4L618.7,398.4L618.7,413.5L625.4,419.4L620.4,420.2L612.8,427.7L612.8,433.6L601.1,445.3L591.9,445.3L591.9,439.4L586.1,433.6L580.2,439.4L580.2,447.0L567.6,458.7L560.9,458.7L555.1,464.6L560.9,471.3L592.8,471.3L574.3,490.5L579.9,495.9L579.9,504.8L566.8,493.9L560.9,499.7L560.9,504.8L575.2,520.0L610.3,520.0L612.0,510.6L617.9,504.8L625.4,504.8L631.3,498.9L631.3,471.3L639.6,478.8L651.4,478.8L645.5,484.7L657.2,496.4L682.3,496.4L682.3,378.3Z" fill="#fff"/>
<path d="M538.3,462.1L540.0,462.1L547.5,452.8L553.4,457.9L543.3,468.8L540.0,471.3L538.3,471.3Z" fill="#fff"/>
<path d="M555.1,406.8L560.1,401.4L567.6,401.4L571.8,406.8L567.6,412.7L560.1,412.7Z" fill="#fff"/>
<path d="M573.5,413.8L579.0,419.4L573.5,424.9L568.0,419.4Z" fill="#fff"/>
<path d="M618.3,458.3L762.3,458.3L762.3,565.5L755.6,568.9L729.7,568.9L723.8,562.2L729.7,556.3L723.8,548.8L717.1,548.8L711.3,542.9L717.1,537.0L723.8,536.2L723.8,530.3L729.7,523.6L717.1,510.2L710.4,510.2L703.7,504.4L697.0,516.9L690.3,516.9L678.6,504.4L683.6,496.8L657.7,496.8L646.0,484.3L651.8,477.6L638.4,477.6L630.9,470.9L630.9,496.8L625.0,503.5L618.3,503.9Z" fill="#fff"/>
<path d="M757.3,582.2L762.3,577.2L762.3,587.3Z" fill="#fff"/>
<path d="M574.3,514.2L581.0,516.7L586.1,521.8L591.9,522.6L597.8,528.8L612.3,515.4L612.3,510.0L590.2,506.7L573.5,510.0Z" fill="#fff"/>
<path d="M619.0,545.6L631.8,531.8L638.5,531.8L643.5,536.5L631.3,549.4L637.5,555.3L625.7,567.8L620.0,562.8L627.1,555.6L621.7,550.2Z" fill="#fff"/>
<path d="M658.1,511.6L663.3,516.7L658.1,521.9L652.9,516.7Z" fill="#fff"/>
<path d="M665.2,620.2L676.9,603.4L683.6,608.5L683.6,615.2L671.9,626.9Z" fill="#fff"/>
<path d="M679.4,627.7L683.6,622.2L692.0,622.2L696.2,627.7L692.0,633.6L683.6,633.6Z" fill="#fff"/>
<path d="M723.0,609.3L728.3,614.7L723.0,620.0L717.6,614.7Z" fill="#fff"/>
<path d="M651.3,655.0L656.7,660.4L651.3,665.7L646.0,660.4Z" fill="#fff"/>
<path d="M736.1,648.3L741.4,653.7L736.1,659.0L730.7,653.7Z" fill="#fff"/>
<path d="M723.3,681.3L728.7,686.7L723.3,692.0L718.0,686.7Z" fill="#fff"/>
<path d="M677.4,701.4L682.5,706.4L677.4,711.5L672.4,706.4Z" fill="#fff"/>
<path d="M692.0,667.1L698.7,661.2L705.4,661.2L716.3,672.1L716.3,687.2L703.7,699.7L727.2,700.6L728.9,705.6L716.3,712.3L687.0,712.3L690.3,707.3L686.1,703.9L690.3,698.9L690.3,687.2L678.6,687.2L673.6,685.5L678.6,680.5L690.3,680.5L697.0,673.8Z" fill="#fff"/>
<path d="M743.1,675.5L755.6,662.1L762.3,663.7L762.3,678.8L748.9,685.5Z" fill="#fff"/>
<path d="M762.3,600.1L755.6,605.1L755.6,618.5L750.6,620.2L750.6,633.6L755.6,640.3L762.3,640.3Z" fill="#fff"/>
<path d="M631.7,695.6L638.4,688.9L643.4,693.9L650.1,699.7L640.1,712.3L631.7,705.6Z" fill="#fff"/>
<path d="M660.2,722.3L666.9,713.1L717.1,713.1L723.8,722.3Z" fill="#fff"/>
<path d="M573.7,696.3L578.8,687.4L590.5,686.7L598.9,693.8L598.9,699.6L590.5,705.8L581.3,705.8L574.6,700.5Z" fill="#fff"/>
<path d="M601.4,692.9L613.9,681.2L622.3,684.6L624.8,690.4L624.8,693.8L613.1,704.7Z" fill="#fff"/>
<path d="M501.4,707.2L506.7,712.5L501.4,717.9L496.0,712.5Z" fill="#fff"/>
<path d="M612.6,706.8L617.9,712.2L612.6,717.6L607.2,712.2Z" fill="#fff"/>
<path d="M488.3,695.5L490.0,696.3L494.2,700.5L494.2,705.5L490.0,709.7L488.3,709.7Z" fill="#fff"/>
<path d="M723.8,561.7L730.5,568.4L755.6,568.4L762.3,562.5L767.3,562.5L775.7,569.2L775.7,575.1L788.8,587.6L788.8,596.0L761.5,596.0L755.6,601.9L755.6,615.3L750.3,621.1L750.3,634.5L755.6,640.4L781.6,640.4L781.6,660.5L788.3,666.3L800.8,653.8L800.8,647.1L808.4,653.8L814.2,653.8L831.0,638.7L831.0,558.3L723.8,558.3Z" fill="#fff"/>
<path d="M757.3,581.8L769.0,570.9L774.0,575.9L762.3,587.6Z" fill="#fff"/>
<path d="M723.0,609.6L728.3,614.9L723.0,620.3L717.6,614.9Z" fill="#fff"/>
<path d="M735.9,648.4L741.2,653.8L735.9,659.1L730.5,653.8Z" fill="#fff"/>
<path d="M723.0,681.1L728.3,686.4L723.0,691.8L717.6,686.4Z" fill="#fff"/>
<path d="M801.7,681.4L807.5,687.3L801.7,693.1L795.8,687.3Z" fill="#fff"/>
<path d="M743.1,675.6L755.6,662.2L762.0,667.2L762.0,672.2L748.9,684.8L743.1,680.6Z" fill="#fff"/>
<path d="M695.3,660.5L703.7,660.5L715.4,673.9L715.4,687.3L703.7,700.0L695.3,700.0Z" fill="#fff"/>
<path d="M747.2,438.3L831.0,438.3L831.0,582.3L775.7,582.3L775.7,568.9L769.0,568.9L762.3,563.1L755.6,568.9L747.2,568.9Z" fill="#fff"/>
<path d="M438.5,451.9L445.2,445.2L450.2,443.5L455.3,446.9L466.1,450.2L468.7,454.4L468.7,458.6L462.0,464.5L456.9,464.5L450.2,458.6L444.4,457.8Z" fill="#fff"/>
<path d="M416.7,459.6L422.1,465.0L416.7,470.3L411.4,465.0Z" fill="#fff"/>
<path d="M410.4,498.8L415.7,504.2L410.4,509.5L405.0,504.2Z" fill="#fff"/>
<path d="M417.6,500.5L423.4,492.1L429.3,498.0L436.0,498.0L441.9,503.8L436.0,509.7L423.4,509.7L417.6,503.8Z" fill="#fff"/>
<path d="M482.9,398.3L488.8,405.0L497.1,403.3L500.5,398.3Z" fill="#fff"/>
<path d="M535.6,465.3L542.3,458.6L542.3,472.0Z" fill="#fff"/>
<path d="M366.7,713.0L371.8,707.5L377.6,707.5L382.7,713.0L377.6,718.6L371.8,718.6Z" fill="#fff"/>
<path d="M450.1,680.4L455.5,675.4L461.9,680.4L461.9,686.2L456.3,691.8L450.1,687.1Z" fill="#fff"/>
<path d="M456.0,602.5L461.5,608.0L456.0,613.6L450.5,608.0Z" fill="#fff"/>
<path d="M477.3,699.6L482.3,694.1L492.3,694.1L492.3,712.2L487.3,710.5L482.3,705.5Z" fill="#fff"/>
<path d="M313.0,708.9L318.9,701.3L325.6,706.3L333.9,707.2L338.1,712.2L332.2,718.9L318.9,718.9L313.0,713.9Z" fill="#fff"/>
<path d="M332.8,693.4L338.1,698.8L332.8,704.2L327.4,698.8Z" fill="#fff"/>
<path d="M801.2,693.7L807.0,699.5L801.2,705.4L795.3,699.5Z" fill="#fff"/>
<path d="M695.3,700.4L703.7,699.5L715.4,699.5L727.1,707.1L716.3,712.9L722.1,718.8L735.5,718.8L742.2,725.5L728.8,740.6L695.3,740.6Z" fill="#fff"/>
<path d="M692.1,666.0L698.8,660.9L703.8,660.9L715.6,672.7L715.6,688.6L704.7,699.4L723.1,700.3L728.1,706.1L723.1,712.8L716.4,712.8L723.1,719.5L742.3,720.4L742.3,740.5L638.5,740.5L663.6,713.7L691.3,713.7L683.7,706.1L691.3,699.4L678.7,687.7L672.8,686.9L680.4,681.0L690.4,681.0L691.3,676.0L697.1,671.0Z" fill="#fff"/>
<path d="M416.9,459.6L422.5,465.1L416.9,470.6L411.4,465.1Z" fill="#fff"/>
<path d="M410.2,498.9L415.8,504.5L410.2,510.0L404.7,504.5Z" fill="#fff"/>
<path d="M418.1,501.1L424.0,492.2L432.3,496.9L432.3,509.5L424.0,509.5Z" fill="#fff"/>
<path d="M483.0,400.3L492.2,392.6L501.0,399.1L493.5,406.2L489.3,405.2Z" fill="#fff"/>
<path d="M61.7,68.3 L34.1,739.0 M173.0,68.3 L153.6,739.0 M284.3,68.3 L273.0,739.0 M395.5,68.3 L392.3,739.0 M506.7,68.3 L511.6,739.0 M617.9,68.3 L630.9,739.0 M729.2,68.3 L750.3,739.0 M52.5,106.5 L79.2,107.6 L105.9,108.6 L132.7,109.5 L159.4,110.4 L186.1,111.1 L212.8,111.8 L239.6,112.5 L266.3,113.0 L293.0,113.5 L319.7,113.8 L346.5,114.2 L373.2,114.4 L399.9,114.5 L426.6,114.6 L453.4,114.6 L480.1,114.5 L506.8,114.4 L533.5,114.2 L560.3,113.8 L587.0,113.5 L613.7,113.0 L640.4,112.5 L667.2,111.8 L693.9,111.1 L720.6,110.4 L747.3,109.5 L774.1,108.6 L800.8,107.6 L827.5,106.5 M52.5,203.2 L79.2,204.3 L105.9,205.3 L132.7,206.2 L159.4,207.0 L186.1,207.8 L212.8,208.5 L239.6,209.1 L266.3,209.6 L293.0,210.1 L319.7,210.5 L346.5,210.8 L373.2,211.0 L399.9,211.2 L426.6,211.2 L453.4,211.2 L480.1,211.2 L506.8,211.0 L533.5,210.8 L560.3,210.5 L587.0,210.1 L613.7,209.6 L640.4,209.1 L667.2,208.5 L693.9,207.8 L720.6,207.0 L747.3,206.2 L774.1,205.3 L800.8,204.3 L827.5,203.2 M52.5,299.7 L79.2,300.8 L105.9,301.7 L132.7,302.7 L159.4,303.5 L186.1,304.2 L212.8,304.9 L239.6,305.5 L266.3,306.1 L293.0,306.5 L319.7,306.9 L346.5,307.2 L373.2,307.4 L399.9,307.6 L426.6,307.6 L453.4,307.6 L480.1,307.6 L506.8,307.4 L533.5,307.2 L560.3,306.9 L587.0,306.5 L613.7,306.1 L640.4,305.5 L667.2,304.9 L693.9,304.2 L720.6,303.5 L747.3,302.7 L774.1,301.7 L800.8,300.8 L827.5,299.7 M52.5,396.1 L79.2,397.1 L105.9,398.1 L132.7,399.0 L159.4,399.8 L186.1,400.6 L212.8,401.3 L239.6,401.9 L266.3,402.4 L293.0,402.8 L319.7,403.2 L346.5,403.5 L373.2,403.7 L399.9,403.9 L426.6,404.0 L453.4,404.0 L480.1,403.9 L506.8,403.7 L533.5,403.5 L560.3,403.2 L587.0,402.8 L613.7,402.4 L640.4,401.9 L667.2,401.3 L693.9,400.6 L720.6,399.8 L747.3,399.0 L774.1,398.1 L800.8,397.1 L827.5,396.1 M52.5,491.8 L79.2,492.8 L105.9,493.8 L132.7,494.7 L159.4,495.5 L186.1,496.3 L212.8,496.9 L239.6,497.5 L266.3,498.0 L293.0,498.5 L319.7,498.8 L346.5,499.1 L373.2,499.4 L399.9,499.5 L426.6,499.6 L453.4,499.6 L480.1,499.5 L506.8,499.4 L533.5,499.1 L560.3,498.8 L587.0,498.5 L613.7,498.0 L640.4,497.5 L667.2,496.9 L693.9,496.3 L720.6,495.5 L747.3,494.7 L774.1,493.8 L800.8,492.8 L827.5,491.8 M52.5,587.9 L79.2,588.9 L105.9,589.9 L132.7,590.8 L159.4,591.6 L186.1,592.3 L212.8,593.0 L239.6,593.6 L266.3,594.1 L293.0,594.5 L319.7,594.9 L346.5,595.2 L373.2,595.4 L399.9,595.5 L426.6,595.6 L453.4,595.6 L480.1,595.5 L506.8,595.4 L533.5,595.2 L560.3,594.9 L587.0,594.5 L613.7,594.1 L640.4,593.6 L667.2,593.0 L693.9,592.3 L720.6,591.6 L747.3,590.8 L774.1,589.9 L800.8,588.9 L827.5,587.9 M52.5,685.4 L79.2,686.4 L105.9,687.4 L132.7,688.2 L159.4,689.0 L186.1,689.8 L212.8,690.4 L239.6,691.0 L266.3,691.5 L293.0,691.9 L319.7,692.3 L346.5,692.6 L373.2,692.8 L399.9,693.0 L426.6,693.0 L453.4,693.0 L480.1,693.0 L506.8,692.8 L533.5,692.6 L560.3,692.3 L587.0,691.9 L613.7,691.5 L640.4,691.0 L667.2,690.4 L693.9,689.8 L720.6,689.0 L747.3,688.2 L774.1,687.4 L800.8,686.4 L827.5,685.4" fill="none" stroke="#b0b0b0" stroke-opacity="0.5" stroke-width="0.7" stroke-dasharray="2.6,1.1"/>
<path d="M782.4,68.0L781.6,74.7L777.4,84.7L770.7,94.8L764.0,99.8L759.0,108.2L755.6,118.2L755.9,121.6L754.8,135.0L753.1,148.4L750.6,161.8L751.4,166.8L753.1,168.5L754.3,165.1L753.9,161.8L755.3,159.3L754.8,155.1L759.0,149.6L761.5,153.4L767.3,163.5L771.5,171.8L776.5,176.9L777.4,169.3L780.7,172.7L783.2,171.8L780.7,175.2L784.1,178.5L787.4,185.2L791.6,191.9L792.5,196.9L789.9,200.3L791.6,203.6L789.1,208.0L787.8,208.2L791.5,210.7L790.3,220.8L785.3,223.3L787.8,227.0L790.3,228.3L782.7,234.6L780.2,233.3L781.5,238.3L787.8,243.4L794.0,250.9L797.8,261.0L799.1,270.0" fill="none" stroke="#000" stroke-width="1.35" stroke-linejoin="round"/>
<path d="M787.8,208.2L784.0,212.0L780.7,218.3L782.7,222.0L785.3,223.3" fill="none" stroke="#000" stroke-width="1.35" stroke-linejoin="round"/>
<path d="M797.8,270.0L801.6,277.5L804.1,290.1L805.3,302.7L804.1,317.7L800.3,332.8L792.8,350.4L787.8,365.5L787.3,375.5L784.8,383.0L785.3,406.9L777.7,420.7L770.2,434.5L757.6,450.9L747.6,456.4L741.3,458.4L744.6,462.9L746.3,458.9L752.6,460.4L757.6,464.7L762.6,472.2L767.7,476.0L768.9,480.0" fill="none" stroke="#000" stroke-width="1.35" stroke-linejoin="round"/>
<path d="M766.5,440.0L760.6,447.5L755.6,451.7L747.2,455.9L740.9,458.4L743.1,461.8L744.7,463.1L745.9,459.3L752.3,460.1L756.4,461.8L760.6,466.8L764.0,471.8L768.2,475.2L770.7,481.0L774.0,485.2L777.0,490.2L777.4,493.6L778.2,500.3L780.7,503.6L780.4,496.9L780.7,489.4L784.1,490.2L788.3,486.1L791.6,483.9L795.8,484.9L790.8,487.7L786.6,491.9L784.1,494.4L787.4,496.1L789.9,493.6L789.9,502.0L787.4,502.8L784.9,506.1L785.8,509.5L789.1,507.8L788.3,512.0L789.1,517.0L790.8,522.1L797.5,524.6L804.2,522.9L807.5,527.1L805.9,522.1L810.9,519.5L827.5,517.0" fill="none" stroke="#000" stroke-width="1.35" stroke-linejoin="round"/>
<path d="M790.8,522.1L787.4,520.4L783.2,517.9L779.1,520.4L775.7,525.4L777.0,533.8L779.1,540.5L778.7,550.5L779.9,557.2L779.1,562.2L782.4,561.4L787.4,557.2L790.8,559.7L797.5,560.6L805.9,558.9L814.2,555.6L817.6,558.9L827.5,559.7" fill="none" stroke="#000" stroke-width="1.35" stroke-linejoin="round"/>
<path d="M779.1,562.2L778.7,567.3L780.7,572.3L785.8,575.6L792.5,579.0L797.5,580.7" fill="none" stroke="#000" stroke-width="1.35" stroke-linejoin="round"/>
<path d="M800.8,579.0L805.9,574.8L812.6,571.5" fill="none" stroke="#000" stroke-width="1.35" stroke-linejoin="round"/>
<path d="M779.1,560.0L778.2,565.0L780.7,570.0L785.8,574.2L790.8,578.4L797.5,580.9L804.2,576.7L812.6,571.7" fill="none" stroke="#000" stroke-width="1.35" stroke-linejoin="round"/>
<path d="M797.5,580.9L800.8,586.8L800.0,591.8L804.2,593.5L810.9,598.5L814.2,600.2L817.6,599.4L820.9,593.5L824.3,588.5L827.5,587.6" fill="none" stroke="#000" stroke-width="1.35" stroke-linejoin="round"/>
<path d="M810.9,596.0L814.2,593.5L817.6,596.0L815.9,600.2" fill="none" stroke="#000" stroke-width="1.35" stroke-linejoin="round"/>
<path d="M797.5,611.9L804.2,609.4L809.2,613.6L805.9,615.3L799.2,614.4L797.5,611.9" fill="none" stroke="#000" stroke-width="1.35" stroke-linejoin="round"/>
<path d="M814.2,613.6L820.1,607.7L822.6,612.8L819.2,616.6L815.1,616.1L814.2,613.6" fill="none" stroke="#000" stroke-width="1.35" stroke-linejoin="round"/>
<path d="M805.9,624.5L809.2,622.8L811.7,625.3L808.4,627.0L805.9,624.5" fill="none" stroke="#000" stroke-width="1.35" stroke-linejoin="round"/>
<path d="M807.5,632.0L812.6,627.8L819.2,627.0L824.3,628.7L823.4,633.7L814.2,635.0L809.2,634.5L807.5,632.0" fill="none" stroke="#000" stroke-width="1.35" stroke-linejoin="round"/>
<path d="M824.3,623.6L826.8,622.0L827.5,625.3L825.1,626.1L824.3,623.6" fill="none" stroke="#000" stroke-width="1.35" stroke-linejoin="round"/>
<path d="M450.2,436.0L452.8,435.2L454.4,437.7L456.9,441.9L462.0,445.2L465.3,450.2L463.6,454.4L458.6,455.6L453.6,453.6L450.2,448.6L449.4,441.9L451.1,439.4L450.2,436.0" fill="none" stroke="#000" stroke-width="1.35" stroke-linejoin="round"/>
<path d="M474.5,437.7L477.0,435.2L480.4,436.0L481.7,440.2L480.4,444.4L477.0,445.6L474.5,442.7L474.5,437.7" fill="none" stroke="#000" stroke-width="1.35" stroke-linejoin="round"/>
<path d="M415.4,453.6L418.4,449.9L423.4,449.4L426.5,452.8L426.0,457.8L421.8,460.3L417.6,458.6L415.4,453.6" fill="none" stroke="#000" stroke-width="1.35" stroke-linejoin="round"/>
<path d="M404.2,457.8L406.4,456.1L408.4,457.8L407.5,460.6L405.0,460.6L404.2,457.8" fill="none" stroke="#000" stroke-width="1.35" stroke-linejoin="round"/>
<path d="M377.1,351.8L381.3,347.6L388.8,345.5L393.8,347.6L395.2,351.0L390.5,354.3L386.3,357.7L381.3,358.9L378.8,356.0L377.1,351.8" fill="none" stroke="#000" stroke-width="1.35" stroke-linejoin="round"/>
<path d="M389.6,362.7L392.2,360.2L397.2,359.4L399.7,361.9L398.9,364.9L393.0,365.6L389.6,362.7" fill="none" stroke="#000" stroke-width="1.35" stroke-linejoin="round"/>
<path d="M403.5,365.2L406.4,364.9L408.1,367.2L405.6,368.2L403.5,365.2" fill="none" stroke="#000" stroke-width="1.35" stroke-linejoin="round"/>
<path d="M411.9,373.3L413.3,373.3L413.3,374.3L411.9,374.3L411.9,373.3" fill="none" stroke="#000" stroke-width="1.35" stroke-linejoin="round"/>
<path d="M420.6,373.9L423.1,371.1L426.5,372.2L432.3,373.9L435.7,375.3L432.3,376.1L427.3,375.6L424.8,379.4L423.1,376.1L420.6,373.9" fill="none" stroke="#000" stroke-width="1.35" stroke-linejoin="round"/>
<path d="M486.8,363.4L489.3,361.7L490.3,366.7L491.1,371.7L489.3,374.2L487.3,370.5L486.8,363.4" fill="none" stroke="#000" stroke-width="1.35" stroke-linejoin="round"/>
<path d="M488.6,393.1L492.4,391.1L498.6,393.6L501.2,398.1L497.4,402.6L491.1,403.1L487.3,399.4L488.6,393.1" fill="none" stroke="#000" stroke-width="1.35" stroke-linejoin="round"/>
</g>
<rect x="72" y="75.2" width="736.5" height="19.6" fill="#fff"/>
<text x="79.2" y="90.6">Start date: 2025-05-01_00:00:00</text>
<text x="800.0" y="90.6" text-anchor="end">Valid_date: 2025-05-02T04:00:00.00</text>
<path d="M52.5,739.0 L52.5,68.3 L827.5,68.3 L827.5,739.0" fill="none" stroke="#000" stroke-width="1.1" stroke-linecap="square"/>
<path d="M52.5,739.0 L827.5,739.0" fill="none" stroke="#000" stroke-opacity="0.3" stroke-width="0.8"/>
<text x="45.3" y="110.6" text-anchor="end">22°N</text>
<text x="45.3" y="206.6" text-anchor="end">20°N</text>
<text x="45.3" y="302.6" text-anchor="end">18°N</text>
<text x="45.3" y="398.6" text-anchor="end">16°N</text>
<text x="45.3" y="494.6" text-anchor="end">14°N</text>
<text x="45.3" y="591.6" text-anchor="end">12°N</text>
<text x="45.3" y="687.6" text-anchor="end">10°N</text>
<text transform="translate(66.0,64) rotate(-90)">32.5°W</text>
<text transform="translate(176.0,64) rotate(-90)">30°W</text>
<text transform="translate(288.0,64) rotate(-90)">27.5°W</text>
<text transform="translate(399.0,64) rotate(-90)">25°W</text>
<text transform="translate(510.0,64) rotate(-90)">22.5°W</text>
<text transform="translate(621.0,64) rotate(-90)">20°W</text>
<text transform="translate(733.0,64) rotate(-90)">17.5°W</text>
<rect x="72.50" y="746.3" width="36.21" height="26.0" fill="#b10b26"/>
<rect x="108.41" y="746.3" width="37.11" height="26.0" fill="#ca2427"/>
<rect x="145.22" y="746.3" width="37.11" height="26.0" fill="#de402e"/>
<rect x="182.03" y="746.3" width="37.11" height="26.0" fill="#ec5c3b"/>
<rect x="218.84" y="746.3" width="37.11" height="26.0" fill="#f67c4a"/>
<rect x="255.65" y="746.3" width="37.11" height="26.0" fill="#fb9d59"/>
<rect x="292.46" y="746.3" width="37.11" height="26.0" fill="#fdbb6d"/>
<rect x="329.27" y="746.3" width="37.11" height="26.0" fill="#fed485"/>
<rect x="366.08" y="746.3" width="37.11" height="26.0" fill="#fee79b"/>
<rect x="402.89" y="746.3" width="37.11" height="26.0" fill="#fff7b3"/>
<rect x="439.70" y="746.3" width="37.11" height="26.0" fill="#f7fcce"/>
<rect x="476.51" y="746.3" width="37.11" height="26.0" fill="#e7f6eb"/>
<rect x="513.32" y="746.3" width="37.11" height="26.0" fill="#d1ecf4"/>
<rect x="550.13" y="746.3" width="37.11" height="26.0" fill="#b9e0ed"/>
<rect x="586.94" y="746.3" width="37.11" height="26.0" fill="#9dcee3"/>
<rect x="623.75" y="746.3" width="37.11" height="26.0" fill="#81b7d7"/>
<rect x="660.56" y="746.3" width="37.11" height="26.0" fill="#679ec9"/>
<rect x="697.37" y="746.3" width="37.11" height="26.0" fill="#4f81ba"/>
<rect x="734.18" y="746.3" width="37.11" height="26.0" fill="#4065ac"/>
<rect x="770.99" y="746.3" width="37.71" height="26.0" fill="#36459c"/>
<rect x="72.5" y="746.3" width="736.2" height="26.0" fill="none" stroke="#000" stroke-width="1.1"/>
<path d="M72.5,772.3 v4.9" stroke="#000" stroke-width="1.1"/>
<text x="72.1" y="793.5" text-anchor="middle">0.00</text>
<path d="M182.9,772.3 v4.9" stroke="#000" stroke-width="1.1"/>
<text x="182.5" y="793.5" text-anchor="middle">0.15</text>
<path d="M293.4,772.3 v4.9" stroke="#000" stroke-width="1.1"/>
<text x="293.0" y="793.5" text-anchor="middle">0.30</text>
<path d="M403.8,772.3 v4.9" stroke="#000" stroke-width="1.1"/>
<text x="403.4" y="793.5" text-anchor="middle">0.45</text>
<path d="M514.2,772.3 v4.9" stroke="#000" stroke-width="1.1"/>
<text x="513.8" y="793.5" text-anchor="middle">0.60</text>
<path d="M624.7,772.3 v4.9" stroke="#000" stroke-width="1.1"/>
<text x="624.3" y="793.5" text-anchor="middle">0.75</text>
<path d="M735.1,772.3 v4.9" stroke="#000" stroke-width="1.1"/>
<text x="734.7" y="793.5" text-anchor="middle">0.90</text>
<text x="439.7" y="822" text-anchor="middle">CAPE ratio</text>
</svg>
</body></html>
